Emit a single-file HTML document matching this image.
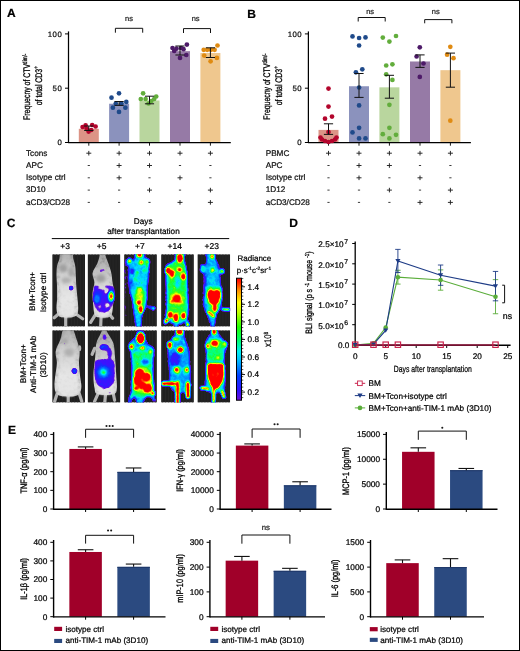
<!DOCTYPE html><html><head><meta charset="utf-8"><style>html,body{margin:0;padding:0;background:#fff;}#root{will-change:transform;position:relative;width:520px;height:651px;overflow:hidden;background:#fff;font-family:"Liberation Sans",sans-serif;}#frame{position:absolute;left:0;top:0;width:520px;height:651px;box-sizing:border-box;border:1px solid #000;pointer-events:none;}</style></head><body><div id="root"><svg width="520" height="651" viewBox="0 0 520 651" style="position:absolute;left:0;top:0" font-family="Liberation Sans, sans-serif" text-rendering="geometricPrecision">
<defs><filter id="bl1" x="-20%" y="-20%" width="140%" height="140%"><feGaussianBlur stdDeviation="1"/></filter><filter id="bl2" x="-30%" y="-30%" width="160%" height="160%"><feGaussianBlur stdDeviation="1.6"/></filter><filter id="bl05"><feGaussianBlur stdDeviation="0.5"/></filter><filter id="mottle" x="-10%" y="-10%" width="120%" height="120%"><feTurbulence type="fractalNoise" baseFrequency="0.28" numOctaves="2" seed="4" result="n"/><feColorMatrix in="n" type="matrix" values="0.9 0 0 0 0.5  0.9 0 0 0 0.5  0.9 0 0 0 0.5  0 0 0 0 1" result="g"/><feComposite in="SourceGraphic" in2="g" operator="arithmetic" k1="1" k2="0" k3="0" k4="0" result="m"/><feGaussianBlur in="m" stdDeviation="0.45"/></filter><filter id="heat" x="0" y="0" width="1" height="1" color-interpolation-filters="sRGB"><feGaussianBlur in="SourceGraphic" stdDeviation="1.2" result="b"/><feTurbulence type="fractalNoise" baseFrequency="0.32" numOctaves="2" seed="5" result="n"/><feComposite in="b" in2="n" operator="arithmetic" k1="0" k2="1" k3="0.24" k4="-0.12" result="bn"/><feColorMatrix in="bn" type="matrix" values="1 0 0 0 0  1 0 0 0 0  1 0 0 0 0  1 0 0 0 0" result="rr"/><feComponentTransfer in="rr"><feFuncR type="table" tableValues="0.439 0.439 0.439 0.439 0.439 0.439 0.439 0.404 0.355 0.305 0.255 0.214 0.174 0.135 0.095 0.061 0.05 0.038 0.027 0.016 0.005 0 0 0 0 0 0 0 0 0 0.002 0.036 0.069 0.102 0.157 0.263 0.369 0.476 0.582 0.692 0.804 0.917 1 1 1 1 1 1 1 1 1 1 1 1 1 1 1 1 1 1 1 1 1 1"/><feFuncG type="table" tableValues="0.063 0.063 0.063 0.063 0.063 0.063 0.063 0.063 0.063 0.063 0.063 0.087 0.114 0.14 0.167 0.201 0.268 0.334 0.4 0.467 0.533 0.6 0.666 0.732 0.799 0.865 0.899 0.925 0.95 0.976 1 1 1 1 1 1 1 1 1 1 1 1 0.976 0.884 0.792 0.699 0.607 0.511 0.412 0.312 0.212 0.145 0.088 0.031 0 0 0 0 0 0 0 0 0 0"/><feFuncB type="table" tableValues="0.847 0.847 0.847 0.847 0.847 0.847 0.847 0.875 0.916 0.956 0.997 1 1 1 1 1 1 1 1 1 1 1 1 1 1 1 0.926 0.834 0.742 0.65 0.556 0.44 0.324 0.207 0.118 0.091 0.065 0.038 0.011 0 0 0 0 0 0 0 0 0 0 0 0 0 0 0 0 0 0 0 0 0 0 0 0 0"/><feFuncA type="table" tableValues="0 0 0 0 0 0.239 0.504 0.769 1 1 1 1 1 1 1 1 1 1 1 1 1 1 1 1 1 1 1 1 1 1 1 1 1 1 1 1 1 1 1 1 1 1 1 1 1 1 1 1 1 1 1 1 1 1 1 1 1 1 1 1 1 1 1 1"/></feComponentTransfer></filter><filter id="heatS" x="0" y="0" width="1" height="1" color-interpolation-filters="sRGB"><feGaussianBlur in="SourceGraphic" stdDeviation="0.8" result="b"/><feTurbulence type="fractalNoise" baseFrequency="0.32" numOctaves="2" seed="5" result="n"/><feComposite in="b" in2="n" operator="arithmetic" k1="0" k2="1" k3="0.12" k4="-0.06" result="bn"/><feColorMatrix in="bn" type="matrix" values="1 0 0 0 0  1 0 0 0 0  1 0 0 0 0  1 0 0 0 0" result="rr"/><feComponentTransfer in="rr"><feFuncR type="table" tableValues="0.439 0.439 0.439 0.439 0.439 0.439 0.439 0.404 0.355 0.305 0.255 0.214 0.174 0.135 0.095 0.061 0.05 0.038 0.027 0.016 0.005 0 0 0 0 0 0 0 0 0 0.002 0.036 0.069 0.102 0.157 0.263 0.369 0.476 0.582 0.692 0.804 0.917 1 1 1 1 1 1 1 1 1 1 1 1 1 1 1 1 1 1 1 1 1 1"/><feFuncG type="table" tableValues="0.063 0.063 0.063 0.063 0.063 0.063 0.063 0.063 0.063 0.063 0.063 0.087 0.114 0.14 0.167 0.201 0.268 0.334 0.4 0.467 0.533 0.6 0.666 0.732 0.799 0.865 0.899 0.925 0.95 0.976 1 1 1 1 1 1 1 1 1 1 1 1 0.976 0.884 0.792 0.699 0.607 0.511 0.412 0.312 0.212 0.145 0.088 0.031 0 0 0 0 0 0 0 0 0 0"/><feFuncB type="table" tableValues="0.847 0.847 0.847 0.847 0.847 0.847 0.847 0.875 0.916 0.956 0.997 1 1 1 1 1 1 1 1 1 1 1 1 1 1 1 0.926 0.834 0.742 0.65 0.556 0.44 0.324 0.207 0.118 0.091 0.065 0.038 0.011 0 0 0 0 0 0 0 0 0 0 0 0 0 0 0 0 0 0 0 0 0 0 0 0 0"/><feFuncA type="table" tableValues="0 0 0 0 0 0.239 0.504 0.769 1 1 1 1 1 1 1 1 1 1 1 1 1 1 1 1 1 1 1 1 1 1 1 1 1 1 1 1 1 1 1 1 1 1 1 1 1 1 1 1 1 1 1 1 1 1 1 1 1 1 1 1 1 1 1 1"/></feComponentTransfer></filter><filter id="rough" x="-5%" y="-5%" width="110%" height="110%"><feTurbulence type="turbulence" baseFrequency="0.45" numOctaves="2" seed="7" result="t"/><feDisplacementMap in="SourceGraphic" in2="t" scale="2.6" xChannelSelector="R" yChannelSelector="G" result="d"/><feGaussianBlur in="d" stdDeviation="0.35"/></filter><linearGradient id="gm" x1="0" y1="0" x2="0" y2="1"><stop offset="0" stop-color="#a0a0a0"/><stop offset="0.3" stop-color="#c2c2c2"/><stop offset="0.6" stop-color="#d6d6d6"/><stop offset="1" stop-color="#dadada"/></linearGradient><linearGradient id="gm2" x1="0" y1="0" x2="0" y2="1"><stop offset="0" stop-color="#b4b4b4"/><stop offset="0.35" stop-color="#d4d4d4"/><stop offset="0.7" stop-color="#eaeaea"/><stop offset="1" stop-color="#e6e6e6"/></linearGradient><linearGradient id="cbar" x1="0" y1="1" x2="0" y2="0"><stop offset="0" stop-color="#6a0fd0"/><stop offset="0.08" stop-color="#3010ff"/><stop offset="0.2" stop-color="#0040ff"/><stop offset="0.33" stop-color="#00c0ff"/><stop offset="0.4" stop-color="#00f0f0"/><stop offset="0.5" stop-color="#00ff60"/><stop offset="0.6" stop-color="#20ff00"/><stop offset="0.72" stop-color="#c0ff00"/><stop offset="0.8" stop-color="#ffff00"/><stop offset="0.9" stop-color="#ff9000"/><stop offset="0.97" stop-color="#ff2000"/><stop offset="1" stop-color="#ff0000"/></linearGradient></defs>
<text x="7" y="17.3" font-size="12" text-anchor="start" fill="#000" stroke="#000" stroke-width="0.22" font-weight="bold">A</text>
<rect x="78.8" y="128.8164" width="20" height="13.683600000000013" fill="#dc9486" />
<rect x="109.1" y="103.72980000000001" width="20" height="38.77019999999999" fill="#8b92bd" />
<rect x="139.5" y="100.4718" width="20" height="42.0282" fill="#b9d69e" />
<rect x="170.0" y="51.167400000000015" width="20" height="91.33259999999999" fill="#967aa6" />
<rect x="200.4" y="53.01360000000001" width="20" height="89.48639999999999" fill="#efc78e" />
<line x1="68.5" y1="31.4" x2="68.5" y2="143.1" stroke="#000" stroke-width="1.25"/>
<line x1="68.5" y1="142.5" x2="230.8" y2="142.5" stroke="#000" stroke-width="1.25"/>
<line x1="65.0" y1="142.5" x2="68.5" y2="142.5" stroke="#000" stroke-width="1"/>
<text x="62.2" y="145.4" font-size="7.8" text-anchor="end" fill="#111" stroke="#111" stroke-width="0.22" letter-spacing="0.45">0</text>
<line x1="65.0" y1="88.20000000000002" x2="68.5" y2="88.20000000000002" stroke="#000" stroke-width="1"/>
<text x="62.2" y="91.10000000000002" font-size="7.8" text-anchor="end" fill="#111" stroke="#111" stroke-width="0.22" letter-spacing="0.45">50</text>
<line x1="65.0" y1="33.90000000000002" x2="68.5" y2="33.90000000000002" stroke="#000" stroke-width="1"/>
<text x="62.2" y="36.80000000000002" font-size="7.8" text-anchor="end" fill="#111" stroke="#111" stroke-width="0.22" letter-spacing="0.45">100</text>
<line x1="88.8" y1="142.5" x2="88.8" y2="145.7" stroke="#000" stroke-width="0.9"/>
<line x1="119.1" y1="142.5" x2="119.1" y2="145.7" stroke="#000" stroke-width="0.9"/>
<line x1="149.5" y1="142.5" x2="149.5" y2="145.7" stroke="#000" stroke-width="0.9"/>
<line x1="180.0" y1="142.5" x2="180.0" y2="145.7" stroke="#000" stroke-width="0.9"/>
<line x1="210.4" y1="142.5" x2="210.4" y2="145.7" stroke="#000" stroke-width="0.9"/>
<circle cx="82.6" cy="127" r="2.35" fill="#b3052c"/>
<circle cx="85.6" cy="125.3" r="2.35" fill="#b3052c"/>
<circle cx="92.2" cy="125" r="2.35" fill="#b3052c"/>
<circle cx="95.6" cy="126.5" r="2.35" fill="#b3052c"/>
<circle cx="88.6" cy="131.6" r="2.35" fill="#b3052c"/>
<circle cx="91.2" cy="130" r="2.35" fill="#b3052c"/>
<circle cx="86.6" cy="128.5" r="2.35" fill="#b3052c"/>
<line x1="88.8" y1="126" x2="88.8" y2="130.5" stroke="#111" stroke-width="1"/>
<line x1="84.2" y1="126" x2="93.39999999999999" y2="126" stroke="#111" stroke-width="1"/>
<line x1="84.2" y1="130.5" x2="93.39999999999999" y2="130.5" stroke="#111" stroke-width="1"/>
<circle cx="111.5" cy="97.7" r="2.35" fill="#1f4a8a"/>
<circle cx="119" cy="93.3" r="2.35" fill="#1f4a8a"/>
<circle cx="112.9" cy="107.7" r="2.35" fill="#1f4a8a"/>
<circle cx="125.4" cy="107.7" r="2.35" fill="#1f4a8a"/>
<circle cx="119" cy="111.9" r="2.35" fill="#1f4a8a"/>
<circle cx="126.3" cy="101.9" r="2.35" fill="#1f4a8a"/>
<circle cx="115.8" cy="103.5" r="2.35" fill="#1f4a8a"/>
<circle cx="121.5" cy="103.5" r="2.35" fill="#1f4a8a"/>
<line x1="119.1" y1="101.5" x2="119.1" y2="105.4" stroke="#111" stroke-width="1"/>
<line x1="114.5" y1="101.5" x2="123.69999999999999" y2="101.5" stroke="#111" stroke-width="1"/>
<line x1="114.5" y1="105.4" x2="123.69999999999999" y2="105.4" stroke="#111" stroke-width="1"/>
<circle cx="143.1" cy="93.3" r="2.35" fill="#62ad3c"/>
<circle cx="156.2" cy="96.5" r="2.35" fill="#62ad3c"/>
<circle cx="140.8" cy="99" r="2.35" fill="#62ad3c"/>
<circle cx="145.6" cy="99" r="2.35" fill="#62ad3c"/>
<circle cx="148.5" cy="103.5" r="2.35" fill="#62ad3c"/>
<circle cx="154.2" cy="99" r="2.35" fill="#62ad3c"/>
<circle cx="151.3" cy="101" r="2.35" fill="#62ad3c"/>
<line x1="149.5" y1="96.2" x2="149.5" y2="103.8" stroke="#111" stroke-width="1"/>
<line x1="144.9" y1="96.2" x2="154.1" y2="96.2" stroke="#111" stroke-width="1"/>
<line x1="144.9" y1="103.8" x2="154.1" y2="103.8" stroke="#111" stroke-width="1"/>
<circle cx="172.5" cy="48" r="2.35" fill="#4d1a68"/>
<circle cx="176.5" cy="48.7" r="2.35" fill="#4d1a68"/>
<circle cx="174.2" cy="51" r="2.35" fill="#4d1a68"/>
<circle cx="181" cy="48" r="2.35" fill="#4d1a68"/>
<circle cx="183.5" cy="49.2" r="2.35" fill="#4d1a68"/>
<circle cx="186.9" cy="44.6" r="2.35" fill="#4d1a68"/>
<circle cx="186.3" cy="55" r="2.35" fill="#4d1a68"/>
<circle cx="180" cy="57.9" r="2.35" fill="#4d1a68"/>
<line x1="180.0" y1="46" x2="180.0" y2="55" stroke="#111" stroke-width="1"/>
<line x1="175.4" y1="46" x2="184.6" y2="46" stroke="#111" stroke-width="1"/>
<line x1="175.4" y1="55" x2="184.6" y2="55" stroke="#111" stroke-width="1"/>
<circle cx="217.5" cy="45.5" r="2.35" fill="#e08b12"/>
<circle cx="203.7" cy="49.8" r="2.35" fill="#e08b12"/>
<circle cx="207.2" cy="49.8" r="2.35" fill="#e08b12"/>
<circle cx="211" cy="49.8" r="2.35" fill="#e08b12"/>
<circle cx="214.6" cy="49.8" r="2.35" fill="#e08b12"/>
<circle cx="204.2" cy="55.6" r="2.35" fill="#e08b12"/>
<circle cx="216.9" cy="57.9" r="2.35" fill="#e08b12"/>
<circle cx="210.6" cy="61.3" r="2.35" fill="#e08b12"/>
<line x1="210.4" y1="47.8" x2="210.4" y2="57.5" stroke="#111" stroke-width="1"/>
<line x1="205.8" y1="47.8" x2="215.0" y2="47.8" stroke="#111" stroke-width="1"/>
<line x1="205.8" y1="57.5" x2="215.0" y2="57.5" stroke="#111" stroke-width="1"/>
<text x="26" y="155.5" font-size="8.2" text-anchor="start" fill="#111" stroke="#111" stroke-width="0.22" >Tcons</text>
<line x1="86.3" y1="153.2" x2="91.3" y2="153.2" stroke="#222" stroke-width="0.95"/>
<line x1="88.8" y1="150.89999999999998" x2="88.8" y2="155.5" stroke="#222" stroke-width="0.95"/>
<line x1="116.6" y1="153.2" x2="121.6" y2="153.2" stroke="#222" stroke-width="0.95"/>
<line x1="119.1" y1="150.89999999999998" x2="119.1" y2="155.5" stroke="#222" stroke-width="0.95"/>
<line x1="147.0" y1="153.2" x2="152.0" y2="153.2" stroke="#222" stroke-width="0.95"/>
<line x1="149.5" y1="150.89999999999998" x2="149.5" y2="155.5" stroke="#222" stroke-width="0.95"/>
<line x1="177.5" y1="153.2" x2="182.5" y2="153.2" stroke="#222" stroke-width="0.95"/>
<line x1="180.0" y1="150.89999999999998" x2="180.0" y2="155.5" stroke="#222" stroke-width="0.95"/>
<line x1="207.9" y1="153.2" x2="212.9" y2="153.2" stroke="#222" stroke-width="0.95"/>
<line x1="210.4" y1="150.89999999999998" x2="210.4" y2="155.5" stroke="#222" stroke-width="0.95"/>
<text x="26" y="167.8" font-size="8.2" text-anchor="start" fill="#111" stroke="#111" stroke-width="0.22" >APC</text>
<line x1="87.7" y1="165.5" x2="89.89999999999999" y2="165.5" stroke="#333" stroke-width="0.95"/>
<line x1="116.6" y1="165.5" x2="121.6" y2="165.5" stroke="#222" stroke-width="0.95"/>
<line x1="119.1" y1="163.2" x2="119.1" y2="167.8" stroke="#222" stroke-width="0.95"/>
<line x1="147.0" y1="165.5" x2="152.0" y2="165.5" stroke="#222" stroke-width="0.95"/>
<line x1="149.5" y1="163.2" x2="149.5" y2="167.8" stroke="#222" stroke-width="0.95"/>
<line x1="178.9" y1="165.5" x2="181.1" y2="165.5" stroke="#333" stroke-width="0.95"/>
<line x1="209.3" y1="165.5" x2="211.5" y2="165.5" stroke="#333" stroke-width="0.95"/>
<text x="26" y="180.10000000000002" font-size="8.2" text-anchor="start" fill="#111" stroke="#111" stroke-width="0.22" >Isotype ctrl</text>
<line x1="87.7" y1="177.8" x2="89.89999999999999" y2="177.8" stroke="#333" stroke-width="0.95"/>
<line x1="116.6" y1="177.8" x2="121.6" y2="177.8" stroke="#222" stroke-width="0.95"/>
<line x1="119.1" y1="175.5" x2="119.1" y2="180.10000000000002" stroke="#222" stroke-width="0.95"/>
<line x1="148.4" y1="177.8" x2="150.6" y2="177.8" stroke="#333" stroke-width="0.95"/>
<line x1="177.5" y1="177.8" x2="182.5" y2="177.8" stroke="#222" stroke-width="0.95"/>
<line x1="180.0" y1="175.5" x2="180.0" y2="180.10000000000002" stroke="#222" stroke-width="0.95"/>
<line x1="209.3" y1="177.8" x2="211.5" y2="177.8" stroke="#333" stroke-width="0.95"/>
<text x="26" y="192.4" font-size="8.2" text-anchor="start" fill="#111" stroke="#111" stroke-width="0.22" >3D10</text>
<line x1="87.7" y1="190.1" x2="89.89999999999999" y2="190.1" stroke="#333" stroke-width="0.95"/>
<line x1="118.0" y1="190.1" x2="120.19999999999999" y2="190.1" stroke="#333" stroke-width="0.95"/>
<line x1="147.0" y1="190.1" x2="152.0" y2="190.1" stroke="#222" stroke-width="0.95"/>
<line x1="149.5" y1="187.79999999999998" x2="149.5" y2="192.4" stroke="#222" stroke-width="0.95"/>
<line x1="178.9" y1="190.1" x2="181.1" y2="190.1" stroke="#333" stroke-width="0.95"/>
<line x1="207.9" y1="190.1" x2="212.9" y2="190.1" stroke="#222" stroke-width="0.95"/>
<line x1="210.4" y1="187.79999999999998" x2="210.4" y2="192.4" stroke="#222" stroke-width="0.95"/>
<text x="26" y="204.70000000000002" font-size="8.2" text-anchor="start" fill="#111" stroke="#111" stroke-width="0.22" >aCD3/CD28</text>
<line x1="87.7" y1="202.4" x2="89.89999999999999" y2="202.4" stroke="#333" stroke-width="0.95"/>
<line x1="118.0" y1="202.4" x2="120.19999999999999" y2="202.4" stroke="#333" stroke-width="0.95"/>
<line x1="148.4" y1="202.4" x2="150.6" y2="202.4" stroke="#333" stroke-width="0.95"/>
<line x1="177.5" y1="202.4" x2="182.5" y2="202.4" stroke="#222" stroke-width="0.95"/>
<line x1="180.0" y1="200.1" x2="180.0" y2="204.70000000000002" stroke="#222" stroke-width="0.95"/>
<line x1="207.9" y1="202.4" x2="212.9" y2="202.4" stroke="#222" stroke-width="0.95"/>
<line x1="210.4" y1="200.1" x2="210.4" y2="204.70000000000002" stroke="#222" stroke-width="0.95"/>
<text transform="translate(30.2,86.8) rotate(-90) scale(0.72,1)" font-size="9.6" text-anchor="middle" fill="#000" stroke="#000" stroke-width="0.3">Frequecny of CTV<tspan font-size="6.4" dy="-3.52">dim/-</tspan></text>
<text transform="translate(41.5,85.7) rotate(-90) scale(0.72,1)" font-size="9.6" text-anchor="middle" fill="#000" stroke="#000" stroke-width="0.3">of total CD3<tspan font-size="6.4" dy="-3.52">+</tspan></text>
<polyline points="115.4,32.7 115.4,28.3 142.7,28.3 142.7,32.7" fill="none" stroke="#111" stroke-width="1"/>
<text x="129" y="21.3" font-size="7.5" text-anchor="middle" fill="#222" stroke="#222" stroke-width="0.22" >ns</text>
<polyline points="183.5,33 183.5,28.6 210.5,28.6 210.5,33" fill="none" stroke="#111" stroke-width="1"/>
<text x="195.6" y="21.3" font-size="7.5" text-anchor="middle" fill="#222" stroke="#222" stroke-width="0.22" >ns</text>
<text x="247.3" y="17.7" font-size="12" text-anchor="start" fill="#000" stroke="#000" stroke-width="0.22" font-weight="bold">B</text>
<rect x="318.5" y="129.9024" width="20" height="12.5976" fill="#dc9486" />
<rect x="349.0" y="86.24520000000001" width="20" height="56.25479999999999" fill="#8b92bd" />
<rect x="379.4" y="87.33120000000001" width="20" height="55.16879999999999" fill="#b9d69e" />
<rect x="410.0" y="61.48440000000002" width="20" height="81.01559999999998" fill="#967aa6" />
<rect x="440.4" y="70.17240000000001" width="20" height="72.32759999999999" fill="#efc78e" />
<line x1="308.4" y1="31.4" x2="308.4" y2="143.1" stroke="#000" stroke-width="1.25"/>
<line x1="308.4" y1="142.5" x2="470.9" y2="142.5" stroke="#000" stroke-width="1.25"/>
<line x1="304.9" y1="142.5" x2="308.4" y2="142.5" stroke="#000" stroke-width="1"/>
<text x="302.09999999999997" y="145.4" font-size="7.8" text-anchor="end" fill="#111" stroke="#111" stroke-width="0.22" letter-spacing="0.45">0</text>
<line x1="304.9" y1="88.20000000000002" x2="308.4" y2="88.20000000000002" stroke="#000" stroke-width="1"/>
<text x="302.09999999999997" y="91.10000000000002" font-size="7.8" text-anchor="end" fill="#111" stroke="#111" stroke-width="0.22" letter-spacing="0.45">50</text>
<line x1="304.9" y1="33.90000000000002" x2="308.4" y2="33.90000000000002" stroke="#000" stroke-width="1"/>
<text x="302.09999999999997" y="36.80000000000002" font-size="7.8" text-anchor="end" fill="#111" stroke="#111" stroke-width="0.22" letter-spacing="0.45">100</text>
<line x1="328.5" y1="142.5" x2="328.5" y2="145.7" stroke="#000" stroke-width="0.9"/>
<line x1="359.0" y1="142.5" x2="359.0" y2="145.7" stroke="#000" stroke-width="0.9"/>
<line x1="389.4" y1="142.5" x2="389.4" y2="145.7" stroke="#000" stroke-width="0.9"/>
<line x1="420.0" y1="142.5" x2="420.0" y2="145.7" stroke="#000" stroke-width="0.9"/>
<line x1="450.4" y1="142.5" x2="450.4" y2="145.7" stroke="#000" stroke-width="0.9"/>
<circle cx="328.5" cy="88.6" r="2.35" fill="#b3052c"/>
<circle cx="328.5" cy="106.6" r="2.35" fill="#b3052c"/>
<circle cx="325" cy="118.7" r="2.35" fill="#b3052c"/>
<circle cx="332" cy="116.6" r="2.35" fill="#b3052c"/>
<circle cx="328.5" cy="132" r="2.35" fill="#b3052c"/>
<circle cx="320.5" cy="137.5" r="2.35" fill="#b3052c"/>
<circle cx="322" cy="139.5" r="2.35" fill="#b3052c"/>
<circle cx="325" cy="141" r="2.35" fill="#b3052c"/>
<circle cx="328.5" cy="142" r="2.35" fill="#b3052c"/>
<circle cx="332" cy="141" r="2.35" fill="#b3052c"/>
<circle cx="335" cy="139.5" r="2.35" fill="#b3052c"/>
<circle cx="336.5" cy="137.5" r="2.35" fill="#b3052c"/>
<line x1="328.5" y1="123.8" x2="328.5" y2="134.4" stroke="#111" stroke-width="1"/>
<line x1="323.9" y1="123.8" x2="333.1" y2="123.8" stroke="#111" stroke-width="1"/>
<line x1="323.9" y1="134.4" x2="333.1" y2="134.4" stroke="#111" stroke-width="1"/>
<circle cx="352.5" cy="36.4" r="2.35" fill="#1f4a8a"/>
<circle cx="359.1" cy="38" r="2.35" fill="#1f4a8a"/>
<circle cx="365.5" cy="37.4" r="2.35" fill="#1f4a8a"/>
<circle cx="359.1" cy="45.5" r="2.35" fill="#1f4a8a"/>
<circle cx="355.9" cy="72.3" r="2.35" fill="#1f4a8a"/>
<circle cx="362.3" cy="69.3" r="2.35" fill="#1f4a8a"/>
<circle cx="359.1" cy="87.5" r="2.35" fill="#1f4a8a"/>
<circle cx="359.1" cy="105.4" r="2.35" fill="#1f4a8a"/>
<circle cx="352.5" cy="132.4" r="2.35" fill="#1f4a8a"/>
<circle cx="359.1" cy="127.8" r="2.35" fill="#1f4a8a"/>
<circle cx="359.1" cy="138.4" r="2.35" fill="#1f4a8a"/>
<circle cx="365.5" cy="138.4" r="2.35" fill="#1f4a8a"/>
<line x1="359.0" y1="73.5" x2="359.0" y2="97.4" stroke="#111" stroke-width="1"/>
<line x1="354.4" y1="73.5" x2="363.6" y2="73.5" stroke="#111" stroke-width="1"/>
<line x1="354.4" y1="97.4" x2="363.6" y2="97.4" stroke="#111" stroke-width="1"/>
<circle cx="382.8" cy="37.6" r="2.35" fill="#62ad3c"/>
<circle cx="389.4" cy="41.6" r="2.35" fill="#62ad3c"/>
<circle cx="396" cy="36" r="2.35" fill="#62ad3c"/>
<circle cx="386.2" cy="65.5" r="2.35" fill="#62ad3c"/>
<circle cx="392.4" cy="64.3" r="2.35" fill="#62ad3c"/>
<circle cx="386.2" cy="74.3" r="2.35" fill="#62ad3c"/>
<circle cx="392.4" cy="79.9" r="2.35" fill="#62ad3c"/>
<circle cx="389.4" cy="104.8" r="2.35" fill="#62ad3c"/>
<circle cx="389.4" cy="127.8" r="2.35" fill="#62ad3c"/>
<circle cx="382.8" cy="134.2" r="2.35" fill="#62ad3c"/>
<circle cx="389.4" cy="138.4" r="2.35" fill="#62ad3c"/>
<circle cx="396" cy="134.8" r="2.35" fill="#62ad3c"/>
<line x1="389.4" y1="75.3" x2="389.4" y2="98.2" stroke="#111" stroke-width="1"/>
<line x1="384.79999999999995" y1="75.3" x2="394.0" y2="75.3" stroke="#111" stroke-width="1"/>
<line x1="384.79999999999995" y1="98.2" x2="394.0" y2="98.2" stroke="#111" stroke-width="1"/>
<circle cx="419.8" cy="47.3" r="2.35" fill="#4d1a68"/>
<circle cx="416.6" cy="56.5" r="2.35" fill="#4d1a68"/>
<circle cx="423.5" cy="63.5" r="2.35" fill="#4d1a68"/>
<circle cx="419.8" cy="76.9" r="2.35" fill="#4d1a68"/>
<line x1="420.0" y1="54.9" x2="420.0" y2="67.4" stroke="#111" stroke-width="1"/>
<line x1="415.4" y1="54.9" x2="424.6" y2="54.9" stroke="#111" stroke-width="1"/>
<line x1="415.4" y1="67.4" x2="424.6" y2="67.4" stroke="#111" stroke-width="1"/>
<circle cx="450.3" cy="46.8" r="2.35" fill="#e08b12"/>
<circle cx="447.1" cy="54.7" r="2.35" fill="#e08b12"/>
<circle cx="453.5" cy="58.2" r="2.35" fill="#e08b12"/>
<circle cx="450.3" cy="120.7" r="2.35" fill="#e08b12"/>
<line x1="450.4" y1="53.1" x2="450.4" y2="87.2" stroke="#111" stroke-width="1"/>
<line x1="445.79999999999995" y1="53.1" x2="455.0" y2="53.1" stroke="#111" stroke-width="1"/>
<line x1="445.79999999999995" y1="87.2" x2="455.0" y2="87.2" stroke="#111" stroke-width="1"/>
<text x="265.7" y="155.5" font-size="8.2" text-anchor="start" fill="#111" stroke="#111" stroke-width="0.22" >PBMC</text>
<line x1="326.0" y1="153.2" x2="331.0" y2="153.2" stroke="#222" stroke-width="0.95"/>
<line x1="328.5" y1="150.89999999999998" x2="328.5" y2="155.5" stroke="#222" stroke-width="0.95"/>
<line x1="356.5" y1="153.2" x2="361.5" y2="153.2" stroke="#222" stroke-width="0.95"/>
<line x1="359.0" y1="150.89999999999998" x2="359.0" y2="155.5" stroke="#222" stroke-width="0.95"/>
<line x1="386.9" y1="153.2" x2="391.9" y2="153.2" stroke="#222" stroke-width="0.95"/>
<line x1="389.4" y1="150.89999999999998" x2="389.4" y2="155.5" stroke="#222" stroke-width="0.95"/>
<line x1="417.5" y1="153.2" x2="422.5" y2="153.2" stroke="#222" stroke-width="0.95"/>
<line x1="420.0" y1="150.89999999999998" x2="420.0" y2="155.5" stroke="#222" stroke-width="0.95"/>
<line x1="447.9" y1="153.2" x2="452.9" y2="153.2" stroke="#222" stroke-width="0.95"/>
<line x1="450.4" y1="150.89999999999998" x2="450.4" y2="155.5" stroke="#222" stroke-width="0.95"/>
<text x="265.7" y="167.8" font-size="8.2" text-anchor="start" fill="#111" stroke="#111" stroke-width="0.22" >APC</text>
<line x1="327.4" y1="165.5" x2="329.6" y2="165.5" stroke="#333" stroke-width="0.95"/>
<line x1="356.5" y1="165.5" x2="361.5" y2="165.5" stroke="#222" stroke-width="0.95"/>
<line x1="359.0" y1="163.2" x2="359.0" y2="167.8" stroke="#222" stroke-width="0.95"/>
<line x1="386.9" y1="165.5" x2="391.9" y2="165.5" stroke="#222" stroke-width="0.95"/>
<line x1="389.4" y1="163.2" x2="389.4" y2="167.8" stroke="#222" stroke-width="0.95"/>
<line x1="418.9" y1="165.5" x2="421.1" y2="165.5" stroke="#333" stroke-width="0.95"/>
<line x1="449.29999999999995" y1="165.5" x2="451.5" y2="165.5" stroke="#333" stroke-width="0.95"/>
<text x="265.7" y="180.10000000000002" font-size="8.2" text-anchor="start" fill="#111" stroke="#111" stroke-width="0.22" >Isotype ctrl</text>
<line x1="327.4" y1="177.8" x2="329.6" y2="177.8" stroke="#333" stroke-width="0.95"/>
<line x1="356.5" y1="177.8" x2="361.5" y2="177.8" stroke="#222" stroke-width="0.95"/>
<line x1="359.0" y1="175.5" x2="359.0" y2="180.10000000000002" stroke="#222" stroke-width="0.95"/>
<line x1="388.29999999999995" y1="177.8" x2="390.5" y2="177.8" stroke="#333" stroke-width="0.95"/>
<line x1="417.5" y1="177.8" x2="422.5" y2="177.8" stroke="#222" stroke-width="0.95"/>
<line x1="420.0" y1="175.5" x2="420.0" y2="180.10000000000002" stroke="#222" stroke-width="0.95"/>
<line x1="449.29999999999995" y1="177.8" x2="451.5" y2="177.8" stroke="#333" stroke-width="0.95"/>
<text x="265.7" y="192.4" font-size="8.2" text-anchor="start" fill="#111" stroke="#111" stroke-width="0.22" >1D12</text>
<line x1="327.4" y1="190.1" x2="329.6" y2="190.1" stroke="#333" stroke-width="0.95"/>
<line x1="357.9" y1="190.1" x2="360.1" y2="190.1" stroke="#333" stroke-width="0.95"/>
<line x1="386.9" y1="190.1" x2="391.9" y2="190.1" stroke="#222" stroke-width="0.95"/>
<line x1="389.4" y1="187.79999999999998" x2="389.4" y2="192.4" stroke="#222" stroke-width="0.95"/>
<line x1="418.9" y1="190.1" x2="421.1" y2="190.1" stroke="#333" stroke-width="0.95"/>
<line x1="447.9" y1="190.1" x2="452.9" y2="190.1" stroke="#222" stroke-width="0.95"/>
<line x1="450.4" y1="187.79999999999998" x2="450.4" y2="192.4" stroke="#222" stroke-width="0.95"/>
<text x="265.7" y="204.70000000000002" font-size="8.2" text-anchor="start" fill="#111" stroke="#111" stroke-width="0.22" >aCD3/CD28</text>
<line x1="327.4" y1="202.4" x2="329.6" y2="202.4" stroke="#333" stroke-width="0.95"/>
<line x1="357.9" y1="202.4" x2="360.1" y2="202.4" stroke="#333" stroke-width="0.95"/>
<line x1="388.29999999999995" y1="202.4" x2="390.5" y2="202.4" stroke="#333" stroke-width="0.95"/>
<line x1="417.5" y1="202.4" x2="422.5" y2="202.4" stroke="#222" stroke-width="0.95"/>
<line x1="420.0" y1="200.1" x2="420.0" y2="204.70000000000002" stroke="#222" stroke-width="0.95"/>
<line x1="447.9" y1="202.4" x2="452.9" y2="202.4" stroke="#222" stroke-width="0.95"/>
<line x1="450.4" y1="200.1" x2="450.4" y2="204.70000000000002" stroke="#222" stroke-width="0.95"/>
<text transform="translate(270.2,86.5) rotate(-90) scale(0.72,1)" font-size="9.6" text-anchor="middle" fill="#000" stroke="#000" stroke-width="0.3">Frequecny of CTV<tspan font-size="6.4" dy="-3.52">dim/-</tspan></text>
<text transform="translate(281.5,85.7) rotate(-90) scale(0.72,1)" font-size="9.6" text-anchor="middle" fill="#000" stroke="#000" stroke-width="0.3">of total CD3<tspan font-size="6.4" dy="-3.52">+</tspan></text>
<polyline points="358.2,21.5 358.2,17.5 385.2,17.5 385.2,21.5" fill="none" stroke="#111" stroke-width="1"/>
<text x="370.1" y="13.9" font-size="7.5" text-anchor="middle" fill="#222" stroke="#222" stroke-width="0.22" >ns</text>
<polyline points="424.7,23.3 424.7,19.6 451.9,19.6 451.9,23.3" fill="none" stroke="#111" stroke-width="1"/>
<text x="435.8" y="13.9" font-size="7.5" text-anchor="middle" fill="#222" stroke="#222" stroke-width="0.22" >ns</text>
<text x="6.7" y="227.3" font-size="12" text-anchor="start" fill="#000" stroke="#000" stroke-width="0.22" font-weight="bold">C</text>
<text x="143.2" y="224.2" font-size="8.2" text-anchor="middle" fill="#000" stroke="#000" stroke-width="0.22" >Days</text>
<text x="143.5" y="234.3" font-size="8.2" text-anchor="middle" fill="#000" stroke="#000" stroke-width="0.22" >after transplantation</text>
<line x1="51.8" y1="238.6" x2="229.2" y2="238.6" stroke="#000" stroke-width="1"/>
<text x="65.1" y="248.9" font-size="8.5" text-anchor="middle" fill="#000" stroke="#000" stroke-width="0.22" >+3</text>
<text x="101.7" y="248.9" font-size="8.5" text-anchor="middle" fill="#000" stroke="#000" stroke-width="0.22" >+5</text>
<text x="139.8" y="248.9" font-size="8.5" text-anchor="middle" fill="#000" stroke="#000" stroke-width="0.22" >+7</text>
<text x="174.7" y="248.9" font-size="8.5" text-anchor="middle" fill="#000" stroke="#000" stroke-width="0.22" >+14</text>
<text x="211.7" y="248.9" font-size="8.5" text-anchor="middle" fill="#000" stroke="#000" stroke-width="0.22" >+23</text>
<clipPath id="m11"><rect x="52.2" y="254.3" width="32.8" height="72.3"/></clipPath>
<g clip-path="url(#m11)">
<rect x="52.2" y="254.3" width="32.8" height="72.3" fill="#202020" />
<rect x="53.2" y="254.3" width="1" height="72.3" fill="#272727" />
<rect x="56.2" y="254.3" width="1" height="72.3" fill="#272727" />
<rect x="59.2" y="254.3" width="1" height="72.3" fill="#272727" />
<rect x="62.2" y="254.3" width="1" height="72.3" fill="#272727" />
<rect x="65.2" y="254.3" width="1" height="72.3" fill="#272727" />
<rect x="68.2" y="254.3" width="1" height="72.3" fill="#272727" />
<rect x="71.2" y="254.3" width="1" height="72.3" fill="#272727" />
<rect x="74.2" y="254.3" width="1" height="72.3" fill="#272727" />
<rect x="77.2" y="254.3" width="1" height="72.3" fill="#272727" />
<rect x="80.2" y="254.3" width="1" height="72.3" fill="#272727" />
<rect x="83.2" y="254.3" width="1" height="72.3" fill="#272727" />
<g transform="translate(52.2,254.3)">
<line x1="6" y1="60" x2="2" y2="63.5" stroke="#b4b4b4" stroke-width="3.2" stroke-linecap="round"/>
<line x1="24" y1="60" x2="30.5" y2="64.5" stroke="#b4b4b4" stroke-width="3.2" stroke-linecap="round"/>
<line x1="13.5" y1="62" x2="13.5" y2="74" stroke="#b4b4b4" stroke-width="3.2" stroke-linecap="round"/>
<path d="M9.00,-2.00 C6.95,-0.88 7.88,2.42 7.20,4.70 C6.52,6.98 5.38,8.98 4.90,11.70 C4.42,14.42 4.30,17.50 4.30,21.00 C4.30,24.50 4.80,28.82 4.90,32.70 C5.00,36.58 5.00,40.80 4.90,44.30 C4.80,47.80 4.20,51.08 4.30,53.70 C4.40,56.32 4.72,58.45 5.50,60.00 C6.28,61.55 6.58,62.50 9.00,63.00 C11.42,63.50 17.33,63.50 20.00,63.00 C22.67,62.50 24.00,61.55 25.00,60.00 C26.00,58.45 25.95,56.32 26.00,53.70 C26.05,51.08 25.60,47.80 25.30,44.30 C25.00,40.80 24.48,36.58 24.20,32.70 C23.92,28.82 23.80,24.50 23.60,21.00 C23.40,17.50 23.40,14.42 23.00,11.70 C22.60,8.98 21.78,6.98 21.20,4.70 C20.62,2.42 21.53,-0.88 19.50,-2.00 C17.47,-3.12 11.05,-3.12 9.00,-2.00 Z" fill="url(#gm)" filter="url(#mottle)" />
<path d="M12.00,-2.00 C10.95,-0.88 10.88,2.42 10.20,4.70 C9.52,6.98 8.38,8.98 7.90,11.70 C7.42,14.42 7.30,17.50 7.30,21.00 C7.30,24.50 7.80,28.82 7.90,32.70 C8.00,36.58 8.00,40.80 7.90,44.30 C7.80,47.80 7.20,51.08 7.30,53.70 C7.40,56.32 7.72,58.45 8.50,60.00 C9.28,61.55 10.58,62.50 12.00,63.00 C13.42,63.50 15.33,63.50 17.00,63.00 C18.67,62.50 21.00,61.55 22.00,60.00 C23.00,58.45 22.95,56.32 23.00,53.70 C23.05,51.08 22.60,47.80 22.30,44.30 C22.00,40.80 21.48,36.58 21.20,32.70 C20.92,28.82 20.80,24.50 20.60,21.00 C20.40,17.50 20.40,14.42 20.00,11.70 C19.60,8.98 18.78,6.98 18.20,4.70 C17.62,2.42 17.53,-0.88 16.50,-2.00 C15.47,-3.12 13.05,-3.12 12.00,-2.00 Z" fill="url(#gm2)" filter="url(#bl1)" opacity="0.8"/>
<ellipse cx="11" cy="14" rx="4" ry="4" fill="#a0a0a0" filter="url(#bl2)"/>
<ellipse cx="19" cy="18" rx="3" ry="5" fill="#a8a8a8" filter="url(#bl2)"/>
<ellipse cx="14" cy="26" rx="5" ry="3" fill="#b0b0b0" filter="url(#bl2)"/>
</g>
<g transform="translate(52.2,254.3)" filter="url(#heatS)">
<rect x="-2" y="-2" width="36.8" height="76.3" fill="#000"/>
<ellipse cx="18.9" cy="33.8" rx="2.4" ry="2.5" fill="rgb(82,82,82)"/>
</g></g>
<clipPath id="m12"><rect x="87.6" y="254.3" width="32.8" height="72.3"/></clipPath>
<g clip-path="url(#m12)">
<rect x="87.6" y="254.3" width="32.8" height="72.3" fill="#202020" />
<rect x="88.6" y="254.3" width="1" height="72.3" fill="#272727" />
<rect x="91.6" y="254.3" width="1" height="72.3" fill="#272727" />
<rect x="94.6" y="254.3" width="1" height="72.3" fill="#272727" />
<rect x="97.6" y="254.3" width="1" height="72.3" fill="#272727" />
<rect x="100.6" y="254.3" width="1" height="72.3" fill="#272727" />
<rect x="103.6" y="254.3" width="1" height="72.3" fill="#272727" />
<rect x="106.6" y="254.3" width="1" height="72.3" fill="#272727" />
<rect x="109.6" y="254.3" width="1" height="72.3" fill="#272727" />
<rect x="112.6" y="254.3" width="1" height="72.3" fill="#272727" />
<rect x="115.6" y="254.3" width="1" height="72.3" fill="#272727" />
<rect x="118.6" y="254.3" width="1" height="72.3" fill="#272727" />
<g transform="translate(87.6,254.3)">
<line x1="8" y1="60" x2="3" y2="68" stroke="#b4b4b4" stroke-width="3.2" stroke-linecap="round"/>
<line x1="21" y1="59" x2="25" y2="64" stroke="#b4b4b4" stroke-width="3.2" stroke-linecap="round"/>
<line x1="13.5" y1="62" x2="13" y2="74" stroke="#b4b4b4" stroke-width="3.2" stroke-linecap="round"/>
<path d="M12.00,-2.00 C11.02,-1.47 12.38,-0.68 12.00,1.20 C11.62,3.08 10.87,6.38 9.70,9.30 C8.53,12.22 5.48,15.58 5.00,18.70 C4.52,21.82 6.80,24.70 6.80,28.00 C6.80,31.30 5.20,34.80 5.00,38.50 C4.80,42.20 5.30,46.70 5.60,50.20 C5.90,53.70 6.07,57.37 6.80,59.50 C7.53,61.63 7.63,62.42 10.00,63.00 C12.37,63.58 18.62,63.58 21.00,63.00 C23.38,62.42 23.55,61.63 24.30,59.50 C25.05,57.37 25.12,53.70 25.50,50.20 C25.88,46.70 26.70,42.20 26.60,38.50 C26.50,34.80 25.38,31.30 24.90,28.00 C24.42,24.70 24.38,21.82 23.70,18.70 C23.02,15.58 21.77,12.22 20.80,9.30 C19.83,6.38 18.38,3.08 17.90,1.20 C17.42,-0.68 18.88,-1.47 17.90,-2.00 C16.92,-2.53 12.98,-2.53 12.00,-2.00 Z" fill="url(#gm)" filter="url(#mottle)" />
<path d="M12.70,9.30 C11.07,10.87 8.48,15.58 8.00,18.70 C7.52,21.82 9.80,24.70 9.80,28.00 C9.80,31.30 8.20,34.80 8.00,38.50 C7.80,42.20 8.30,46.70 8.60,50.20 C8.90,53.70 9.07,57.37 9.80,59.50 C10.53,61.63 11.63,62.42 13.00,63.00 C14.37,63.58 16.62,63.58 18.00,63.00 C19.38,62.42 20.55,61.63 21.30,59.50 C22.05,57.37 22.12,53.70 22.50,50.20 C22.88,46.70 23.70,42.20 23.60,38.50 C23.50,34.80 22.38,31.30 21.90,28.00 C21.42,24.70 21.38,21.82 20.70,18.70 C20.02,15.58 19.13,10.87 17.80,9.30 C16.47,7.73 14.33,7.73 12.70,9.30 Z" fill="url(#gm2)" filter="url(#bl1)" opacity="0.8"/>
<ellipse cx="13" cy="24" rx="5" ry="4" fill="#a0a0a0" filter="url(#bl2)"/>
</g>
<g transform="translate(87.6,254.3)" filter="url(#heatS)">
<rect x="-2" y="-2" width="36.8" height="76.3" fill="#000"/>
<path d="M8.00,31.00 C4.92,31.67 5.92,32.67 5.50,35.00 C5.08,37.33 5.25,42.17 5.50,45.00 C5.75,47.83 6.08,49.83 7.00,52.00 C7.92,54.17 8.83,57.00 11.00,58.00 C13.17,59.00 17.67,59.00 20.00,58.00 C22.33,57.00 23.83,54.17 25.00,52.00 C26.17,49.83 26.67,47.83 27.00,45.00 C27.33,42.17 27.50,37.33 27.00,35.00 C26.50,32.67 27.17,31.67 24.00,31.00 C20.83,30.33 11.08,30.33 8.00,31.00 Z" fill="rgb(48,48,48)"/>
<ellipse cx="10" cy="42" rx="4" ry="6" fill="rgb(66,66,66)"/>
<ellipse cx="9" cy="45" rx="3.5" ry="4" fill="rgb(87,87,87)"/>
<ellipse cx="23.6" cy="42" rx="3" ry="5.5" fill="rgb(158,158,158)"/>
<ellipse cx="23.6" cy="42" rx="1.4" ry="2" fill="rgb(255,255,255)"/>
<ellipse cx="14.5" cy="33" rx="3" ry="2" fill="rgb(0,0,0)"/>
<ellipse cx="19" cy="36.5" rx="1.8" ry="2.5" fill="rgb(0,0,0)"/>
<ellipse cx="19.5" cy="51" rx="2" ry="2" fill="rgb(5,5,5)"/>
<ellipse cx="12" cy="53" rx="1.5" ry="1.5" fill="rgb(13,13,13)"/>
<ellipse cx="13" cy="16.1" rx="1.5" ry="1.5" fill="rgb(64,64,64)"/>
<ellipse cx="16.1" cy="15.8" rx="1.5" ry="1.5" fill="rgb(64,64,64)"/>
<ellipse cx="12.6" cy="63" rx="1.2" ry="1.2" fill="rgb(56,56,56)"/>
</g></g>
<clipPath id="m13"><rect x="124.1" y="254.3" width="32.8" height="72.3"/></clipPath>
<g clip-path="url(#m13)">
<rect x="124.1" y="254.3" width="32.8" height="72.3" fill="#202020" />
<rect x="125.1" y="254.3" width="1" height="72.3" fill="#272727" />
<rect x="128.1" y="254.3" width="1" height="72.3" fill="#272727" />
<rect x="131.1" y="254.3" width="1" height="72.3" fill="#272727" />
<rect x="134.1" y="254.3" width="1" height="72.3" fill="#272727" />
<rect x="137.1" y="254.3" width="1" height="72.3" fill="#272727" />
<rect x="140.1" y="254.3" width="1" height="72.3" fill="#272727" />
<rect x="143.1" y="254.3" width="1" height="72.3" fill="#272727" />
<rect x="146.1" y="254.3" width="1" height="72.3" fill="#272727" />
<rect x="149.1" y="254.3" width="1" height="72.3" fill="#272727" />
<rect x="152.1" y="254.3" width="1" height="72.3" fill="#272727" />
<rect x="155.1" y="254.3" width="1" height="72.3" fill="#272727" />
<g transform="translate(124.1,254.3)">
</g>
<g transform="translate(124.1,254.3)" filter="url(#heat)">
<rect x="-2" y="-2" width="36.8" height="76.3" fill="#000"/>
<line x1="1.0" y1="5" x2="1.0" y2="66" stroke="rgb(61,61,61)" stroke-width="1.8" stroke-linecap="round"/>
<path d="M10.70,-3.00 C8.95,-1.72 11.15,2.20 10.20,4.70 C9.25,7.20 6.03,9.45 5.00,12.00 C3.97,14.55 4.08,16.55 4.00,20.00 C3.92,23.45 3.92,28.53 4.50,32.70 C5.08,36.87 6.75,41.28 7.50,45.00 C8.25,48.72 8.58,52.17 9.00,55.00 C9.42,57.83 9.42,58.83 10.00,62.00 C10.58,65.17 11.40,72.00 12.50,74.00 C13.60,76.00 15.63,76.00 16.60,74.00 C17.57,72.00 17.57,65.17 18.30,62.00 C19.03,58.83 20.22,57.83 21.00,55.00 C21.78,52.17 22.57,48.72 23.00,45.00 C23.43,41.28 23.27,36.87 23.60,32.70 C23.93,28.53 24.85,23.45 25.00,20.00 C25.15,16.55 25.17,14.55 24.50,12.00 C23.83,9.45 21.63,7.20 21.00,4.70 C20.37,2.20 22.42,-1.72 20.70,-3.00 C18.98,-4.28 12.45,-4.28 10.70,-3.00 Z" fill="rgb(112,112,112)"/>
<ellipse cx="5.5" cy="8" rx="3.4" ry="5" fill="rgb(107,107,107)"/>
<ellipse cx="5.5" cy="6.6" rx="1.4" ry="1.6" fill="rgb(255,255,255)"/>
<ellipse cx="23" cy="9" rx="3" ry="5.5" fill="rgb(128,128,128)"/>
<ellipse cx="23" cy="7.5" rx="1.3" ry="1.6" fill="rgb(204,204,204)"/>
<ellipse cx="21.5" cy="16" rx="2" ry="2" fill="rgb(140,140,140)"/>
<ellipse cx="29" cy="54" rx="2.4" ry="2.2" fill="rgb(115,115,115)"/>
<ellipse cx="29" cy="53.7" rx="1.0" ry="1.0" fill="rgb(255,255,255)"/>
<line x1="23" y1="52" x2="28" y2="54" stroke="rgb(89,89,89)" stroke-width="2.5" stroke-linecap="round"/>
<ellipse cx="16" cy="44" rx="6.5" ry="12" fill="rgb(140,140,140)"/>
<ellipse cx="15.5" cy="42" rx="4" ry="7.5" fill="rgb(173,173,173)"/>
<ellipse cx="12" cy="25" rx="2" ry="3" fill="rgb(133,133,133)"/>
<ellipse cx="19" cy="27" rx="2" ry="2.5" fill="rgb(128,128,128)"/>
<ellipse cx="9.5" cy="37" rx="2" ry="3" fill="rgb(122,122,122)"/>
<ellipse cx="14.8" cy="48.4" rx="2.3" ry="2.3" fill="rgb(255,255,255)"/>
<ellipse cx="16.6" cy="55" rx="2.1" ry="3.6" fill="rgb(255,255,255)"/>
<ellipse cx="16" cy="35" rx="1.2" ry="1.6" fill="rgb(230,230,230)"/>
<ellipse cx="15.4" cy="0.6" rx="2.6" ry="2.2" fill="rgb(255,255,255)"/>
<ellipse cx="17.2" cy="8.2" rx="2.2" ry="2.4" fill="rgb(217,217,217)"/>
<ellipse cx="12.5" cy="19.3" rx="2" ry="2.5" fill="rgb(143,143,143)"/>
<ellipse cx="8" cy="17" rx="2" ry="3" fill="rgb(56,56,56)"/>
<ellipse cx="7" cy="30" rx="1.5" ry="5" fill="rgb(71,71,71)"/>
</g></g>
<clipPath id="m14"><rect x="161.1" y="254.3" width="32.8" height="72.3"/></clipPath>
<g clip-path="url(#m14)">
<rect x="161.1" y="254.3" width="32.8" height="72.3" fill="#202020" />
<rect x="162.1" y="254.3" width="1" height="72.3" fill="#272727" />
<rect x="165.1" y="254.3" width="1" height="72.3" fill="#272727" />
<rect x="168.1" y="254.3" width="1" height="72.3" fill="#272727" />
<rect x="171.1" y="254.3" width="1" height="72.3" fill="#272727" />
<rect x="174.1" y="254.3" width="1" height="72.3" fill="#272727" />
<rect x="177.1" y="254.3" width="1" height="72.3" fill="#272727" />
<rect x="180.1" y="254.3" width="1" height="72.3" fill="#272727" />
<rect x="183.1" y="254.3" width="1" height="72.3" fill="#272727" />
<rect x="186.1" y="254.3" width="1" height="72.3" fill="#272727" />
<rect x="189.1" y="254.3" width="1" height="72.3" fill="#272727" />
<rect x="192.1" y="254.3" width="1" height="72.3" fill="#272727" />
<g transform="translate(161.1,254.3)">
</g>
<g transform="translate(161.1,254.3)" filter="url(#heat)">
<rect x="-2" y="-2" width="36.8" height="76.3" fill="#000"/>
<path d="M14.00,-3.00 C12.42,-2.00 14.42,1.25 14.00,3.00 C13.58,4.75 13.02,6.17 11.50,7.50 C9.98,8.83 6.10,8.75 4.90,11.00 C3.70,13.25 4.30,16.42 4.30,21.00 C4.30,25.58 4.80,33.25 4.90,38.50 C5.00,43.75 4.95,48.80 4.90,52.50 C4.85,56.20 4.25,58.45 4.60,60.70 C4.95,62.95 5.77,64.45 7.00,66.00 C8.23,67.55 9.83,69.33 12.00,70.00 C14.17,70.67 17.83,70.67 20.00,70.00 C22.17,69.33 23.80,67.55 25.00,66.00 C26.20,64.45 26.75,62.95 27.20,60.70 C27.65,58.45 27.73,56.20 27.70,52.50 C27.67,48.80 27.20,43.75 27.00,38.50 C26.80,33.25 26.83,25.58 26.50,21.00 C26.17,16.42 25.42,13.25 25.00,11.00 C24.58,8.75 24.25,8.83 24.00,7.50 C23.75,6.17 23.58,4.75 23.50,3.00 C23.42,1.25 25.08,-2.00 23.50,-3.00 C21.92,-4.00 15.58,-4.00 14.00,-3.00 Z" fill="rgb(117,117,117)"/>
<line x1="6" y1="62" x2="4" y2="69" stroke="rgb(107,107,107)" stroke-width="3.5" stroke-linecap="round"/>
<line x1="24" y1="63" x2="27" y2="71" stroke="rgb(107,107,107)" stroke-width="3.5" stroke-linecap="round"/>
<line x1="15" y1="62" x2="15" y2="74" stroke="rgb(107,107,107)" stroke-width="4" stroke-linecap="round"/>
<path d="M10.00,9.00 C7.58,10.83 7.92,14.83 7.50,20.00 C7.08,25.17 7.50,34.17 7.50,40.00 C7.50,45.83 7.25,51.33 7.50,55.00 C7.75,58.67 6.25,60.83 9.00,62.00 C11.75,63.17 21.33,63.17 24.00,62.00 C26.67,60.83 24.83,58.67 25.00,55.00 C25.17,51.33 25.08,45.83 25.00,40.00 C24.92,34.17 25.00,25.17 24.50,20.00 C24.00,14.83 24.42,10.83 22.00,9.00 C19.58,7.17 12.42,7.17 10.00,9.00 Z" fill="rgb(148,148,148)"/>
<ellipse cx="16.5" cy="28" rx="2.5" ry="6" fill="rgb(112,112,112)"/>
<ellipse cx="15.4" cy="44.3" rx="7" ry="6.5" fill="rgb(173,173,173)"/>
<ellipse cx="15.6" cy="44.3" rx="3.8" ry="3.6" fill="rgb(255,255,255)"/>
<ellipse cx="10.5" cy="47" rx="1.5" ry="1.5" fill="rgb(230,230,230)"/>
<ellipse cx="20" cy="48" rx="1.5" ry="1.5" fill="rgb(217,217,217)"/>
<ellipse cx="18.9" cy="3.8" rx="3.1" ry="4.4" fill="rgb(255,255,255)"/>
<ellipse cx="6.7" cy="16.3" rx="2.5" ry="3.3" fill="rgb(255,255,255)"/>
<ellipse cx="10.7" cy="19.3" rx="2.3" ry="3.8" fill="rgb(255,255,255)"/>
<ellipse cx="18.3" cy="15.2" rx="2.3" ry="1.8" fill="rgb(255,255,255)"/>
<ellipse cx="22.4" cy="22.2" rx="2.3" ry="3.3" fill="rgb(255,255,255)"/>
<ellipse cx="9" cy="60.7" rx="2.5" ry="3.3" fill="rgb(255,255,255)"/>
<ellipse cx="14.8" cy="63.5" rx="2.5" ry="4.3" fill="rgb(255,255,255)"/>
<ellipse cx="22.4" cy="61.8" rx="2.3" ry="3.3" fill="rgb(255,255,255)"/>
<ellipse cx="5.5" cy="66.5" rx="1.8" ry="2.3" fill="rgb(255,255,255)"/>
<ellipse cx="26.5" cy="70.5" rx="1.8" ry="1.8" fill="rgb(255,255,255)"/>
</g></g>
<clipPath id="m15"><rect x="197.4" y="254.3" width="32.8" height="72.3"/></clipPath>
<g clip-path="url(#m15)">
<rect x="197.4" y="254.3" width="32.8" height="72.3" fill="#202020" />
<rect x="198.4" y="254.3" width="1" height="72.3" fill="#272727" />
<rect x="201.4" y="254.3" width="1" height="72.3" fill="#272727" />
<rect x="204.4" y="254.3" width="1" height="72.3" fill="#272727" />
<rect x="207.4" y="254.3" width="1" height="72.3" fill="#272727" />
<rect x="210.4" y="254.3" width="1" height="72.3" fill="#272727" />
<rect x="213.4" y="254.3" width="1" height="72.3" fill="#272727" />
<rect x="216.4" y="254.3" width="1" height="72.3" fill="#272727" />
<rect x="219.4" y="254.3" width="1" height="72.3" fill="#272727" />
<rect x="222.4" y="254.3" width="1" height="72.3" fill="#272727" />
<rect x="225.4" y="254.3" width="1" height="72.3" fill="#272727" />
<rect x="228.4" y="254.3" width="1" height="72.3" fill="#272727" />
<g transform="translate(197.4,254.3)">
</g>
<g transform="translate(197.4,254.3)" filter="url(#heat)">
<rect x="-2" y="-2" width="36.8" height="76.3" fill="#000"/>
<path d="M8.80,-3.00 C7.27,-1.83 8.90,1.75 8.80,4.00 C8.70,6.25 8.78,7.67 8.20,10.50 C7.62,13.33 5.70,16.72 5.30,21.00 C4.90,25.28 5.72,31.33 5.80,36.20 C5.88,41.07 5.18,46.12 5.80,50.20 C6.42,54.28 8.03,56.73 9.50,60.70 C10.97,64.67 13.37,71.78 14.60,74.00 C15.83,76.22 16.08,76.22 16.90,74.00 C17.72,71.78 18.23,64.67 19.50,60.70 C20.77,56.73 23.75,54.28 24.50,50.20 C25.25,46.12 24.28,41.07 24.00,36.20 C23.72,31.33 23.30,25.28 22.80,21.00 C22.30,16.72 21.72,13.33 21.00,10.50 C20.28,7.67 19.00,6.25 18.50,4.00 C18.00,1.75 19.62,-1.83 18.00,-3.00 C16.38,-4.17 10.33,-4.17 8.80,-3.00 Z" fill="rgb(105,105,105)"/>
<ellipse cx="6.5" cy="30" rx="2" ry="13" fill="rgb(46,46,46)"/>
<ellipse cx="5.3" cy="14.5" rx="2.8" ry="4.5" fill="rgb(128,128,128)"/>
<ellipse cx="24.7" cy="17" rx="2.5" ry="2.8" fill="rgb(166,166,166)"/>
<line x1="25" y1="55" x2="32" y2="55.5" stroke="rgb(115,115,115)" stroke-width="3" stroke-linecap="round"/>
<line x1="25.5" y1="55" x2="32" y2="55.4" stroke="rgb(255,255,255)" stroke-width="1.5" stroke-linecap="round"/>
<path d="M9.00,32.50 C6.47,33.08 8.42,34.08 8.30,36.00 C8.18,37.92 7.93,41.67 8.30,44.00 C8.67,46.33 9.63,47.67 10.50,50.00 C11.37,52.33 11.92,56.67 13.50,58.00 C15.08,59.33 18.50,59.33 20.00,58.00 C21.50,56.67 21.75,52.33 22.50,50.00 C23.25,47.67 24.17,46.33 24.50,44.00 C24.83,41.67 24.67,37.92 24.50,36.00 C24.33,34.08 26.08,33.08 23.50,32.50 C20.92,31.92 11.53,31.92 9.00,32.50 Z" fill="rgb(143,143,143)"/>
<ellipse cx="13.6" cy="40.5" rx="3.6" ry="5.2" fill="rgb(255,255,255)"/>
<ellipse cx="19.6" cy="40.5" rx="3.6" ry="5.2" fill="rgb(255,255,255)"/>
<ellipse cx="16.6" cy="45.5" rx="5.2" ry="5" fill="rgb(255,255,255)"/>
<ellipse cx="17.4" cy="53.5" rx="1.9" ry="3.8" fill="rgb(255,255,255)"/>
<line x1="10.8" y1="57.5" x2="16.5" y2="62" stroke="rgb(255,255,255)" stroke-width="2.2" stroke-linecap="round"/>
<ellipse cx="15.2" cy="15.2" rx="2.4" ry="2.8" fill="rgb(140,140,140)"/>
<ellipse cx="15.2" cy="16.3" rx="1.2" ry="1.5" fill="rgb(255,255,255)"/>
<ellipse cx="14.6" cy="2.3" rx="1.5" ry="2.3" fill="rgb(255,255,255)"/>
<ellipse cx="15" cy="25" rx="3" ry="5" fill="rgb(115,115,115)"/>
</g></g>
<clipPath id="m21"><rect x="52.2" y="330.3" width="32.8" height="72.3"/></clipPath>
<g clip-path="url(#m21)">
<rect x="52.2" y="330.3" width="32.8" height="72.3" fill="#202020" />
<rect x="53.2" y="330.3" width="1" height="72.3" fill="#272727" />
<rect x="56.2" y="330.3" width="1" height="72.3" fill="#272727" />
<rect x="59.2" y="330.3" width="1" height="72.3" fill="#272727" />
<rect x="62.2" y="330.3" width="1" height="72.3" fill="#272727" />
<rect x="65.2" y="330.3" width="1" height="72.3" fill="#272727" />
<rect x="68.2" y="330.3" width="1" height="72.3" fill="#272727" />
<rect x="71.2" y="330.3" width="1" height="72.3" fill="#272727" />
<rect x="74.2" y="330.3" width="1" height="72.3" fill="#272727" />
<rect x="77.2" y="330.3" width="1" height="72.3" fill="#272727" />
<rect x="80.2" y="330.3" width="1" height="72.3" fill="#272727" />
<rect x="83.2" y="330.3" width="1" height="72.3" fill="#272727" />
<g transform="translate(52.2,330.3)">
<line x1="6" y1="60" x2="2.5" y2="71" stroke="#b4b4b4" stroke-width="3.2" stroke-linecap="round"/>
<line x1="26" y1="60" x2="29.5" y2="71" stroke="#b4b4b4" stroke-width="3.2" stroke-linecap="round"/>
<line x1="16" y1="63" x2="16" y2="74" stroke="#b4b4b4" stroke-width="3.2" stroke-linecap="round"/>
<path d="M11.70,-2.00 C9.77,-0.12 9.57,5.47 8.20,9.30 C6.83,13.13 4.08,17.10 3.50,21.00 C2.92,24.90 4.80,28.42 4.70,32.70 C4.60,36.98 3.30,42.82 2.90,46.70 C2.50,50.58 2.12,53.28 2.30,56.00 C2.48,58.72 2.72,61.33 4.00,63.00 C5.28,64.67 7.00,65.50 10.00,66.00 C13.00,66.50 19.08,66.50 22.00,66.00 C24.92,65.50 26.30,64.67 27.50,63.00 C28.70,61.33 29.12,58.72 29.20,56.00 C29.28,53.28 28.40,50.58 28.00,46.70 C27.60,42.82 26.90,36.98 26.80,32.70 C26.70,28.42 27.78,24.90 27.40,21.00 C27.02,17.10 25.77,13.13 24.50,9.30 C23.23,5.47 21.93,-0.12 19.80,-2.00 C17.67,-3.88 13.63,-3.88 11.70,-2.00 Z" fill="url(#gm)" filter="url(#mottle)" />
<path d="M14.70,-2.00 C13.77,-0.12 12.57,5.47 11.20,9.30 C9.83,13.13 7.08,17.10 6.50,21.00 C5.92,24.90 7.80,28.42 7.70,32.70 C7.60,36.98 6.30,42.82 5.90,46.70 C5.50,50.58 5.12,53.28 5.30,56.00 C5.48,58.72 5.72,61.33 7.00,63.00 C8.28,64.67 11.00,65.50 13.00,66.00 C15.00,66.50 17.08,66.50 19.00,66.00 C20.92,65.50 23.30,64.67 24.50,63.00 C25.70,61.33 26.12,58.72 26.20,56.00 C26.28,53.28 25.40,50.58 25.00,46.70 C24.60,42.82 23.90,36.98 23.80,32.70 C23.70,28.42 24.78,24.90 24.40,21.00 C24.02,17.10 22.77,13.13 21.50,9.30 C20.23,5.47 17.93,-0.12 16.80,-2.00 C15.67,-3.88 15.63,-3.88 14.70,-2.00 Z" fill="url(#gm2)" filter="url(#bl1)" opacity="0.8"/>
<ellipse cx="17" cy="22" rx="5" ry="4" fill="#b0b0b0" filter="url(#bl2)"/>
<ellipse cx="13" cy="11" rx="3" ry="3" fill="#a8a8a8" filter="url(#bl2)"/>
<ellipse cx="27.5" cy="18" rx="1.5" ry="3" fill="#b8b8b8" filter="url(#bl05)"/>
</g>
<g transform="translate(52.2,330.3)" filter="url(#heatS)">
<rect x="-2" y="-2" width="36.8" height="76.3" fill="#000"/>
<ellipse cx="22.2" cy="40.8" rx="3" ry="3" fill="rgb(76,76,76)"/>
<ellipse cx="12.3" cy="13.4" rx="1.3" ry="1.3" fill="rgb(61,61,61)"/>
</g></g>
<clipPath id="m22"><rect x="87.6" y="330.3" width="32.8" height="72.3"/></clipPath>
<g clip-path="url(#m22)">
<rect x="87.6" y="330.3" width="32.8" height="72.3" fill="#202020" />
<rect x="88.6" y="330.3" width="1" height="72.3" fill="#272727" />
<rect x="91.6" y="330.3" width="1" height="72.3" fill="#272727" />
<rect x="94.6" y="330.3" width="1" height="72.3" fill="#272727" />
<rect x="97.6" y="330.3" width="1" height="72.3" fill="#272727" />
<rect x="100.6" y="330.3" width="1" height="72.3" fill="#272727" />
<rect x="103.6" y="330.3" width="1" height="72.3" fill="#272727" />
<rect x="106.6" y="330.3" width="1" height="72.3" fill="#272727" />
<rect x="109.6" y="330.3" width="1" height="72.3" fill="#272727" />
<rect x="112.6" y="330.3" width="1" height="72.3" fill="#272727" />
<rect x="115.6" y="330.3" width="1" height="72.3" fill="#272727" />
<rect x="118.6" y="330.3" width="1" height="72.3" fill="#272727" />
<g transform="translate(87.6,330.3)">
<line x1="11" y1="62" x2="7" y2="71" stroke="#b4b4b4" stroke-width="3.2" stroke-linecap="round"/>
<line x1="25" y1="60" x2="27" y2="70" stroke="#b4b4b4" stroke-width="3.2" stroke-linecap="round"/>
<line x1="18" y1="63" x2="17" y2="74" stroke="#b4b4b4" stroke-width="3.2" stroke-linecap="round"/>
<line x1="7" y1="18" x2="4.5" y2="24" stroke="#b4b4b4" stroke-width="3.2" stroke-linecap="round"/>
<path d="M14.00,-2.00 C13.12,-1.47 14.87,-1.27 14.00,1.20 C13.13,3.67 9.87,8.53 8.80,12.80 C7.73,17.07 8.10,21.55 7.60,26.80 C7.10,32.05 5.90,39.05 5.80,44.30 C5.70,49.55 6.30,55.02 7.00,58.30 C7.70,61.58 6.83,63.05 10.00,64.00 C13.17,64.95 22.80,64.95 26.00,64.00 C29.20,63.05 28.77,61.58 29.20,58.30 C29.63,55.02 28.90,49.55 28.60,44.30 C28.30,39.05 27.88,32.05 27.40,26.80 C26.92,21.55 27.05,17.07 25.70,12.80 C24.35,8.53 20.37,3.67 19.30,1.20 C18.23,-1.27 20.18,-1.47 19.30,-2.00 C18.42,-2.53 14.88,-2.53 14.00,-2.00 Z" fill="url(#gm)" filter="url(#mottle)" />
<path d="M11.80,12.80 C9.78,15.13 11.10,21.55 10.60,26.80 C10.10,32.05 8.90,39.05 8.80,44.30 C8.70,49.55 9.30,55.02 10.00,58.30 C10.70,61.58 10.83,63.05 13.00,64.00 C15.17,64.95 20.80,64.95 23.00,64.00 C25.20,63.05 25.77,61.58 26.20,58.30 C26.63,55.02 25.90,49.55 25.60,44.30 C25.30,39.05 24.88,32.05 24.40,26.80 C23.92,21.55 24.80,15.13 22.70,12.80 C20.60,10.47 13.82,10.47 11.80,12.80 Z" fill="url(#gm2)" filter="url(#bl1)" opacity="0.8"/>
</g>
<g transform="translate(87.6,330.3)" filter="url(#heatS)">
<rect x="-2" y="-2" width="36.8" height="76.3" fill="#000"/>
<path d="M10.00,29.00 C7.17,29.67 7.58,30.33 7.00,33.00 C6.42,35.67 6.25,41.67 6.50,45.00 C6.75,48.33 7.25,50.83 8.50,53.00 C9.75,55.17 11.92,57.17 14.00,58.00 C16.08,58.83 19.00,58.83 21.00,58.00 C23.00,57.17 24.92,55.17 26.00,53.00 C27.08,50.83 27.33,48.33 27.50,45.00 C27.67,41.67 27.58,35.67 27.00,33.00 C26.42,30.33 26.83,29.67 24.00,29.00 C21.17,28.33 12.83,28.33 10.00,29.00 Z" fill="rgb(51,51,51)"/>
<ellipse cx="15.8" cy="42" rx="7" ry="7" fill="rgb(76,76,76)"/>
<ellipse cx="15.8" cy="42" rx="3.8" ry="3.8" fill="rgb(107,107,107)"/>
<ellipse cx="15.8" cy="42" rx="1.6" ry="1.6" fill="rgb(158,158,158)"/>
<ellipse cx="16.9" cy="7" rx="2.3" ry="3.5" fill="rgb(51,51,51)"/>
<ellipse cx="16.5" cy="17" rx="5" ry="3.5" fill="rgb(61,61,61)"/>
<ellipse cx="15.2" cy="16.3" rx="1.3" ry="1.1" fill="rgb(97,97,97)"/>
<ellipse cx="22" cy="23" rx="3" ry="6" fill="rgb(48,48,48)"/>
<ellipse cx="11.5" cy="25" rx="2.5" ry="3" fill="rgb(0,0,0)"/>
<ellipse cx="22.2" cy="62.4" rx="1.8" ry="1.8" fill="rgb(51,51,51)"/>
<ellipse cx="15" cy="60" rx="1.1" ry="1.1" fill="rgb(51,51,51)"/>
</g></g>
<clipPath id="m23"><rect x="124.1" y="330.3" width="32.8" height="72.3"/></clipPath>
<g clip-path="url(#m23)">
<rect x="124.1" y="330.3" width="32.8" height="72.3" fill="#202020" />
<rect x="125.1" y="330.3" width="1" height="72.3" fill="#272727" />
<rect x="128.1" y="330.3" width="1" height="72.3" fill="#272727" />
<rect x="131.1" y="330.3" width="1" height="72.3" fill="#272727" />
<rect x="134.1" y="330.3" width="1" height="72.3" fill="#272727" />
<rect x="137.1" y="330.3" width="1" height="72.3" fill="#272727" />
<rect x="140.1" y="330.3" width="1" height="72.3" fill="#272727" />
<rect x="143.1" y="330.3" width="1" height="72.3" fill="#272727" />
<rect x="146.1" y="330.3" width="1" height="72.3" fill="#272727" />
<rect x="149.1" y="330.3" width="1" height="72.3" fill="#272727" />
<rect x="152.1" y="330.3" width="1" height="72.3" fill="#272727" />
<rect x="155.1" y="330.3" width="1" height="72.3" fill="#272727" />
<g transform="translate(124.1,330.3)">
</g>
<g transform="translate(124.1,330.3)" filter="url(#heat)">
<rect x="-2" y="-2" width="36.8" height="76.3" fill="#000"/>
<path d="M13.00,0.50 C11.67,1.42 12.83,3.92 11.50,6.00 C10.17,8.08 6.00,10.95 5.00,13.00 C4.00,15.05 5.12,15.03 5.50,18.30 C5.88,21.57 7.00,28.22 7.30,32.60 C7.60,36.98 7.35,40.37 7.30,44.60 C7.25,48.83 6.80,54.93 7.00,58.00 C7.20,61.07 7.83,61.50 8.50,63.00 C9.17,64.50 10.25,65.17 11.00,67.00 C11.75,68.83 11.83,72.83 13.00,74.00 C14.17,75.17 16.50,75.17 18.00,74.00 C19.50,72.83 20.33,68.83 22.00,67.00 C23.67,65.17 26.58,64.50 28.00,63.00 C29.42,61.50 30.27,61.07 30.50,58.00 C30.73,54.93 29.58,48.83 29.40,44.60 C29.22,40.37 29.30,36.98 29.40,32.60 C29.50,28.22 31.07,21.57 30.00,18.30 C28.93,15.03 24.50,15.05 23.00,13.00 C21.50,10.95 21.58,8.08 21.00,6.00 C20.42,3.92 20.83,1.42 19.50,0.50 C18.17,-0.42 14.33,-0.42 13.00,0.50 Z" fill="rgb(107,107,107)"/>
<path d="M9.00,22.00 C6.00,23.33 9.00,26.17 9.00,30.00 C9.00,33.83 9.17,40.00 9.00,45.00 C8.83,50.00 8.00,56.50 8.00,60.00 C8.00,63.50 5.50,65.00 9.00,66.00 C12.50,67.00 25.58,67.00 29.00,66.00 C32.42,65.00 29.67,63.50 29.50,60.00 C29.33,56.50 28.33,50.00 28.00,45.00 C27.67,40.00 27.67,33.83 27.50,30.00 C27.33,26.17 30.08,23.33 27.00,22.00 C23.92,20.67 12.00,20.67 9.00,22.00 Z" fill="rgb(140,140,140)"/>
<ellipse cx="16.5" cy="8" rx="5.6" ry="7.2" fill="rgb(38,38,38)"/>
<ellipse cx="16.5" cy="8" rx="4.4" ry="6.0" fill="rgb(255,255,255)"/>
<ellipse cx="7.3" cy="16.5" rx="3" ry="3.4" fill="rgb(158,158,158)"/>
<ellipse cx="7.3" cy="16.5" rx="1.7" ry="2.0" fill="rgb(255,255,255)"/>
<line x1="8" y1="62" x2="5" y2="73" stroke="rgb(107,107,107)" stroke-width="3" stroke-linecap="round"/>
<line x1="27" y1="62" x2="30" y2="70" stroke="rgb(115,115,115)" stroke-width="3" stroke-linecap="round"/>
<ellipse cx="18" cy="17.7" rx="2.8" ry="1.6" fill="rgb(242,242,242)"/>
<ellipse cx="26.4" cy="21.2" rx="1.6" ry="2" fill="rgb(204,204,204)"/>
<ellipse cx="21" cy="31.4" rx="4" ry="3" fill="rgb(87,87,87)"/>
<ellipse cx="18.5" cy="50" rx="10" ry="13.5" fill="rgb(168,168,168)"/>
<ellipse cx="15.5" cy="43" rx="4.5" ry="4.5" fill="rgb(255,255,255)"/>
<ellipse cx="13.5" cy="50" rx="3.6" ry="5" fill="rgb(255,255,255)"/>
<ellipse cx="22" cy="47" rx="4.5" ry="4" fill="rgb(255,255,255)"/>
<ellipse cx="23.5" cy="58" rx="4.5" ry="4.5" fill="rgb(255,255,255)"/>
<ellipse cx="17.5" cy="55" rx="3.5" ry="3.5" fill="rgb(255,255,255)"/>
<ellipse cx="12" cy="58" rx="2" ry="2" fill="rgb(255,255,255)"/>
<ellipse cx="19" cy="47" rx="1" ry="1" fill="rgb(178,178,178)"/>
<ellipse cx="8" cy="66" rx="1.5" ry="3" fill="rgb(140,140,140)"/>
<ellipse cx="29" cy="63" rx="2" ry="2" fill="rgb(255,255,255)"/>
</g></g>
<clipPath id="m24"><rect x="161.1" y="330.3" width="32.8" height="72.3"/></clipPath>
<g clip-path="url(#m24)">
<rect x="161.1" y="330.3" width="32.8" height="72.3" fill="#202020" />
<rect x="162.1" y="330.3" width="1" height="72.3" fill="#272727" />
<rect x="165.1" y="330.3" width="1" height="72.3" fill="#272727" />
<rect x="168.1" y="330.3" width="1" height="72.3" fill="#272727" />
<rect x="171.1" y="330.3" width="1" height="72.3" fill="#272727" />
<rect x="174.1" y="330.3" width="1" height="72.3" fill="#272727" />
<rect x="177.1" y="330.3" width="1" height="72.3" fill="#272727" />
<rect x="180.1" y="330.3" width="1" height="72.3" fill="#272727" />
<rect x="183.1" y="330.3" width="1" height="72.3" fill="#272727" />
<rect x="186.1" y="330.3" width="1" height="72.3" fill="#272727" />
<rect x="189.1" y="330.3" width="1" height="72.3" fill="#272727" />
<rect x="192.1" y="330.3" width="1" height="72.3" fill="#272727" />
<g transform="translate(161.1,330.3)">
</g>
<g transform="translate(161.1,330.3)" filter="url(#heat)">
<rect x="-2" y="-2" width="36.8" height="76.3" fill="#000"/>
<path d="M14.00,-3.00 C12.58,-2.00 14.63,1.05 14.00,3.00 C13.37,4.95 11.43,5.75 10.20,8.70 C8.97,11.65 7.00,15.72 6.60,20.70 C6.20,25.68 7.53,33.62 7.80,38.60 C8.07,43.58 8.00,47.70 8.20,50.60 C8.40,53.50 8.03,54.10 9.00,56.00 C9.97,57.90 11.00,61.00 14.00,62.00 C17.00,63.00 24.50,63.00 27.00,62.00 C29.50,61.00 28.53,57.90 29.00,56.00 C29.47,54.10 29.75,53.50 29.80,50.60 C29.85,47.70 29.58,43.58 29.30,38.60 C29.02,33.62 28.90,25.68 28.10,20.70 C27.30,15.72 25.35,11.65 24.50,8.70 C23.65,5.75 23.33,4.95 23.00,3.00 C22.67,1.05 24.00,-2.00 22.50,-3.00 C21.00,-4.00 15.42,-4.00 14.00,-3.00 Z" fill="rgb(102,102,102)"/>
<line x1="2" y1="53.3" x2="12.6" y2="53.3" stroke="rgb(107,107,107)" stroke-width="4.6" stroke-linecap="round"/>
<line x1="16.5" y1="52" x2="16.5" y2="73" stroke="rgb(107,107,107)" stroke-width="4.5" stroke-linecap="round"/>
<line x1="26.9" y1="53" x2="26.9" y2="66.5" stroke="rgb(107,107,107)" stroke-width="4.8" stroke-linecap="round"/>
<ellipse cx="13.8" cy="29" rx="5" ry="7" fill="rgb(61,61,61)"/>
<ellipse cx="16" cy="40" rx="4.5" ry="4.5" fill="rgb(140,140,140)"/>
<ellipse cx="25.5" cy="40" rx="3" ry="3.5" fill="rgb(140,140,140)"/>
<ellipse cx="18.6" cy="1.5" rx="3.3" ry="3.0" fill="rgb(255,255,255)"/>
<ellipse cx="15" cy="8.7" rx="3.5" ry="1.5" fill="rgb(184,184,184)"/>
<ellipse cx="8.4" cy="14.7" rx="2.4" ry="3.8" fill="rgb(255,255,255)"/>
<ellipse cx="19.2" cy="19.5" rx="3.3" ry="2.8" fill="rgb(255,255,255)"/>
<ellipse cx="15.6" cy="39.5" rx="2.2" ry="2.3" fill="rgb(255,255,255)"/>
<ellipse cx="25.7" cy="39.5" rx="1.7" ry="2.0" fill="rgb(255,255,255)"/>
<line x1="2" y1="53.3" x2="12.6" y2="53.3" stroke="rgb(255,255,255)" stroke-width="3.6" stroke-linecap="round"/>
<line x1="16.5" y1="52.5" x2="16.5" y2="73" stroke="rgb(255,255,255)" stroke-width="3.4" stroke-linecap="round"/>
<line x1="26.9" y1="53.5" x2="26.9" y2="66" stroke="rgb(255,255,255)" stroke-width="3.8" stroke-linecap="round"/>
</g></g>
<clipPath id="m25"><rect x="197.4" y="330.3" width="32.8" height="72.3"/></clipPath>
<g clip-path="url(#m25)">
<rect x="197.4" y="330.3" width="32.8" height="72.3" fill="#202020" />
<rect x="198.4" y="330.3" width="1" height="72.3" fill="#272727" />
<rect x="201.4" y="330.3" width="1" height="72.3" fill="#272727" />
<rect x="204.4" y="330.3" width="1" height="72.3" fill="#272727" />
<rect x="207.4" y="330.3" width="1" height="72.3" fill="#272727" />
<rect x="210.4" y="330.3" width="1" height="72.3" fill="#272727" />
<rect x="213.4" y="330.3" width="1" height="72.3" fill="#272727" />
<rect x="216.4" y="330.3" width="1" height="72.3" fill="#272727" />
<rect x="219.4" y="330.3" width="1" height="72.3" fill="#272727" />
<rect x="222.4" y="330.3" width="1" height="72.3" fill="#272727" />
<rect x="225.4" y="330.3" width="1" height="72.3" fill="#272727" />
<rect x="228.4" y="330.3" width="1" height="72.3" fill="#272727" />
<g transform="translate(197.4,330.3)">
</g>
<g transform="translate(197.4,330.3)" filter="url(#heat)">
<rect x="-2" y="-2" width="36.8" height="76.3" fill="#000"/>
<path d="M13.50,-3.00 C12.25,-2.00 13.67,1.05 13.00,3.00 C12.33,4.95 10.42,6.87 9.50,8.70 C8.58,10.53 7.58,11.02 7.50,14.00 C7.42,16.98 8.95,21.50 9.00,26.60 C9.05,31.70 7.97,39.60 7.80,44.60 C7.63,49.60 7.30,53.70 8.00,56.60 C8.70,59.50 9.00,61.10 12.00,62.00 C15.00,62.90 23.42,62.90 26.00,62.00 C28.58,61.10 27.15,59.50 27.50,56.60 C27.85,53.70 28.20,49.60 28.10,44.60 C28.00,39.60 26.58,31.70 26.90,26.60 C27.22,21.50 30.15,16.98 30.00,14.00 C29.85,11.02 27.50,10.53 26.00,8.70 C24.50,6.87 21.92,4.95 21.00,3.00 C20.08,1.05 21.75,-2.00 20.50,-3.00 C19.25,-4.00 14.75,-4.00 13.50,-3.00 Z" fill="rgb(107,107,107)"/>
<path d="M11.00,10.00 C8.67,11.67 10.17,16.67 10.00,20.00 C9.83,23.33 7.33,28.33 10.00,30.00 C12.67,31.67 23.42,31.67 26.00,30.00 C28.58,28.33 25.83,23.33 25.50,20.00 C25.17,16.67 26.42,11.67 24.00,10.00 C21.58,8.33 13.33,8.33 11.00,10.00 Z" fill="rgb(140,140,140)"/>
<line x1="4" y1="57.5" x2="10.5" y2="58.5" stroke="rgb(107,107,107)" stroke-width="3.8" stroke-linecap="round"/>
<line x1="16.3" y1="58" x2="16.3" y2="73" stroke="rgb(107,107,107)" stroke-width="3.8" stroke-linecap="round"/>
<line x1="24.5" y1="60" x2="26.8" y2="67" stroke="rgb(107,107,107)" stroke-width="3.8" stroke-linecap="round"/>
<ellipse cx="16.8" cy="1.5" rx="2.2" ry="2.7" fill="rgb(255,255,255)"/>
<ellipse cx="17.4" cy="12.9" rx="3.6" ry="3" fill="rgb(255,255,255)"/>
<ellipse cx="10.2" cy="15.9" rx="1.6" ry="2.1" fill="rgb(255,255,255)"/>
<ellipse cx="27.5" cy="14" rx="2.6" ry="3.1" fill="rgb(178,178,178)"/>
<ellipse cx="20.4" cy="27.2" rx="1.1" ry="1.3" fill="rgb(255,255,255)"/>
<path d="M11.00,33.50 C8.50,33.92 10.13,34.25 10.00,36.00 C9.87,37.75 9.95,41.67 10.20,44.00 C10.45,46.33 10.95,48.17 11.50,50.00 C12.05,51.83 12.75,53.58 13.50,55.00 C14.25,56.42 14.92,57.92 16.00,58.50 C17.08,59.08 18.83,59.08 20.00,58.50 C21.17,57.92 22.08,56.42 23.00,55.00 C23.92,53.58 24.92,51.83 25.50,50.00 C26.08,48.17 26.37,46.33 26.50,44.00 C26.63,41.67 26.55,37.75 26.30,36.00 C26.05,34.25 27.55,33.92 25.00,33.50 C22.45,33.08 13.50,33.08 11.00,33.50 Z" fill="rgb(255,255,255)"/>
<ellipse cx="15.8" cy="44.5" rx="0.7" ry="3" fill="rgb(173,173,173)"/>
<ellipse cx="20.5" cy="43.5" rx="1.3" ry="1.2" fill="rgb(173,173,173)"/>
<ellipse cx="19.2" cy="47" rx="0.6" ry="2" fill="rgb(173,173,173)"/>
<line x1="4" y1="57.5" x2="10.5" y2="58.5" stroke="rgb(255,255,255)" stroke-width="2.2" stroke-linecap="round"/>
<line x1="16.3" y1="59" x2="16.3" y2="71" stroke="rgb(255,255,255)" stroke-width="2.2" stroke-linecap="round"/>
<line x1="24.8" y1="61" x2="26.5" y2="66" stroke="rgb(255,255,255)" stroke-width="2.3" stroke-linecap="round"/>
</g></g>
<text transform="translate(35.3,291.5) rotate(-90) scale(1.0,1)" font-size="8.2" text-anchor="middle" fill="#000" stroke="#000" stroke-width="0.22">BM+Tcon+</text>
<text transform="translate(45.7,292.4) rotate(-90) scale(1.0,1)" font-size="8.2" text-anchor="middle" fill="#000" stroke="#000" stroke-width="0.22">Isotype ctrl</text>
<text transform="translate(26.2,363.7) rotate(-90) scale(1.0,1)" font-size="8.2" text-anchor="middle" fill="#000" stroke="#000" stroke-width="0.22">BM+Tcon+</text>
<text transform="translate(36.0,364.3) rotate(-90) scale(1.0,1)" font-size="8.2" text-anchor="middle" fill="#000" stroke="#000" stroke-width="0.22">Anti-TIM-1 mAb</text>
<text transform="translate(45.8,364.9) rotate(-90) scale(1.0,1)" font-size="8.2" text-anchor="middle" fill="#000" stroke="#000" stroke-width="0.22">(3D10)</text>
<rect x="236.5" y="278.2" width="5" height="122" fill="url(#cbar)" stroke="#000" stroke-width="1"/>
<line x1="241.5" y1="278.6" x2="243.3" y2="278.6" stroke="#000" stroke-width="0.7"/>
<line x1="241.5" y1="282.1" x2="243.3" y2="282.1" stroke="#000" stroke-width="0.7"/>
<line x1="241.5" y1="285.6" x2="243.3" y2="285.6" stroke="#000" stroke-width="0.7"/>
<line x1="241.5" y1="289.1" x2="243.3" y2="289.1" stroke="#000" stroke-width="0.7"/>
<line x1="241.5" y1="292.6" x2="243.3" y2="292.6" stroke="#000" stroke-width="0.7"/>
<line x1="241.5" y1="296.1" x2="243.3" y2="296.1" stroke="#000" stroke-width="0.7"/>
<line x1="241.5" y1="299.6" x2="243.3" y2="299.6" stroke="#000" stroke-width="0.7"/>
<line x1="241.5" y1="303.1" x2="243.3" y2="303.1" stroke="#000" stroke-width="0.7"/>
<line x1="241.5" y1="306.6" x2="243.3" y2="306.6" stroke="#000" stroke-width="0.7"/>
<line x1="241.5" y1="310.1" x2="243.3" y2="310.1" stroke="#000" stroke-width="0.7"/>
<line x1="241.5" y1="313.6" x2="243.3" y2="313.6" stroke="#000" stroke-width="0.7"/>
<line x1="241.5" y1="317.1" x2="243.3" y2="317.1" stroke="#000" stroke-width="0.7"/>
<line x1="241.5" y1="320.6" x2="243.3" y2="320.6" stroke="#000" stroke-width="0.7"/>
<line x1="241.5" y1="324.1" x2="243.3" y2="324.1" stroke="#000" stroke-width="0.7"/>
<line x1="241.5" y1="327.6" x2="243.3" y2="327.6" stroke="#000" stroke-width="0.7"/>
<line x1="241.5" y1="331.1" x2="243.3" y2="331.1" stroke="#000" stroke-width="0.7"/>
<line x1="241.5" y1="334.6" x2="243.3" y2="334.6" stroke="#000" stroke-width="0.7"/>
<line x1="241.5" y1="338.1" x2="243.3" y2="338.1" stroke="#000" stroke-width="0.7"/>
<line x1="241.5" y1="341.6" x2="243.3" y2="341.6" stroke="#000" stroke-width="0.7"/>
<line x1="241.5" y1="345.1" x2="243.3" y2="345.1" stroke="#000" stroke-width="0.7"/>
<line x1="241.5" y1="348.6" x2="243.3" y2="348.6" stroke="#000" stroke-width="0.7"/>
<line x1="241.5" y1="352.1" x2="243.3" y2="352.1" stroke="#000" stroke-width="0.7"/>
<line x1="241.5" y1="355.6" x2="243.3" y2="355.6" stroke="#000" stroke-width="0.7"/>
<line x1="241.5" y1="359.1" x2="243.3" y2="359.1" stroke="#000" stroke-width="0.7"/>
<line x1="241.5" y1="362.6" x2="243.3" y2="362.6" stroke="#000" stroke-width="0.7"/>
<line x1="241.5" y1="366.1" x2="243.3" y2="366.1" stroke="#000" stroke-width="0.7"/>
<line x1="241.5" y1="369.6" x2="243.3" y2="369.6" stroke="#000" stroke-width="0.7"/>
<line x1="241.5" y1="373.1" x2="243.3" y2="373.1" stroke="#000" stroke-width="0.7"/>
<line x1="241.5" y1="376.6" x2="243.3" y2="376.6" stroke="#000" stroke-width="0.7"/>
<line x1="241.5" y1="380.1" x2="243.3" y2="380.1" stroke="#000" stroke-width="0.7"/>
<line x1="241.5" y1="383.6" x2="243.3" y2="383.6" stroke="#000" stroke-width="0.7"/>
<line x1="241.5" y1="387.1" x2="243.3" y2="387.1" stroke="#000" stroke-width="0.7"/>
<line x1="241.5" y1="390.6" x2="243.3" y2="390.6" stroke="#000" stroke-width="0.7"/>
<line x1="241.5" y1="394.1" x2="243.3" y2="394.1" stroke="#000" stroke-width="0.7"/>
<line x1="241.5" y1="397.6" x2="243.3" y2="397.6" stroke="#000" stroke-width="0.7"/>
<line x1="241.5" y1="286.8" x2="245" y2="286.8" stroke="#000" stroke-width="0.9"/>
<text x="247.6" y="289.7" font-size="8.2" text-anchor="start" fill="#000" stroke="#000" stroke-width="0.22" >1.4</text>
<line x1="241.5" y1="304.35" x2="245" y2="304.35" stroke="#000" stroke-width="0.9"/>
<text x="247.6" y="307.25" font-size="8.2" text-anchor="start" fill="#000" stroke="#000" stroke-width="0.22" >1.2</text>
<line x1="241.5" y1="321.90000000000003" x2="245" y2="321.90000000000003" stroke="#000" stroke-width="0.9"/>
<text x="247.6" y="324.8" font-size="8.2" text-anchor="start" fill="#000" stroke="#000" stroke-width="0.22" >1.0</text>
<line x1="241.5" y1="339.45000000000005" x2="245" y2="339.45000000000005" stroke="#000" stroke-width="0.9"/>
<text x="247.6" y="342.35" font-size="8.2" text-anchor="start" fill="#000" stroke="#000" stroke-width="0.22" >0.8</text>
<line x1="241.5" y1="357.0" x2="245" y2="357.0" stroke="#000" stroke-width="0.9"/>
<text x="247.6" y="359.9" font-size="8.2" text-anchor="start" fill="#000" stroke="#000" stroke-width="0.22" >0.6</text>
<line x1="241.5" y1="374.55" x2="245" y2="374.55" stroke="#000" stroke-width="0.9"/>
<text x="247.6" y="377.45" font-size="8.2" text-anchor="start" fill="#000" stroke="#000" stroke-width="0.22" >0.4</text>
<line x1="241.5" y1="392.1" x2="245" y2="392.1" stroke="#000" stroke-width="0.9"/>
<text x="247.6" y="395.0" font-size="8.2" text-anchor="start" fill="#000" stroke="#000" stroke-width="0.22" >0.2</text>
<text x="237.5" y="260.6" font-size="8" text-anchor="start" fill="#000" stroke="#000" stroke-width="0.22" >Radiance</text>
<text x="236.8" y="273" font-size="7.9" text-anchor="start" fill="#000" stroke="#000" stroke-width="0.22" >p&#183;s<tspan font-size="4.8" dy="-2.64">-1</tspan><tspan dy="2.64">c</tspan><tspan font-size="4.8" dy="-2.64">-2</tspan><tspan dy="2.64">sr</tspan><tspan font-size="4.8" dy="-2.64">-1</tspan></text>
<text transform="translate(271.3,339.4) rotate(-90) scale(0.79,1)" font-size="9.7" text-anchor="middle" fill="#000" stroke="#000" stroke-width="0.22">x10<tspan font-size="6" dy="-3.30">8</tspan></text>
<text x="289.2" y="227.2" font-size="12" text-anchor="start" fill="#000" stroke="#000" stroke-width="0.22" font-weight="bold">D</text>
<line x1="355.2" y1="241.5" x2="355.2" y2="345.7" stroke="#000" stroke-width="1.3"/>
<line x1="355.2" y1="345.2" x2="510.6" y2="345.2" stroke="#000" stroke-width="1.4"/>
<line x1="352.2" y1="345.0" x2="355.2" y2="345.0" stroke="#000" stroke-width="1"/>
<text x="349.3" y="347.9" font-size="8.2" text-anchor="end" fill="#000" stroke="#000" stroke-width="0.22" >0.0</text>
<line x1="352.2" y1="324.7" x2="355.2" y2="324.7" stroke="#000" stroke-width="1"/>
<text x="343.6" y="328.50" font-size="8.2" text-anchor="end" stroke="#000" stroke-width="0.22">5.0&#215;10</text>
<text x="344.2" y="325.0" font-size="6.8" text-anchor="start" fill="#000" stroke="#000" stroke-width="0.22" >6</text>
<line x1="352.2" y1="304.4" x2="355.2" y2="304.4" stroke="#000" stroke-width="1"/>
<text x="343.6" y="308.20" font-size="8.2" text-anchor="end" stroke="#000" stroke-width="0.22">1.0&#215;10</text>
<text x="344.2" y="304.7" font-size="6.8" text-anchor="start" fill="#000" stroke="#000" stroke-width="0.22" >7</text>
<line x1="352.2" y1="284.1" x2="355.2" y2="284.1" stroke="#000" stroke-width="1"/>
<text x="343.6" y="287.90" font-size="8.2" text-anchor="end" stroke="#000" stroke-width="0.22">1.5&#215;10</text>
<text x="344.2" y="284.40000000000003" font-size="6.8" text-anchor="start" fill="#000" stroke="#000" stroke-width="0.22" >7</text>
<line x1="352.2" y1="263.8" x2="355.2" y2="263.8" stroke="#000" stroke-width="1"/>
<text x="343.6" y="267.60" font-size="8.2" text-anchor="end" stroke="#000" stroke-width="0.22">2.0&#215;10</text>
<text x="344.2" y="264.1" font-size="6.8" text-anchor="start" fill="#000" stroke="#000" stroke-width="0.22" >7</text>
<line x1="352.2" y1="243.5" x2="355.2" y2="243.5" stroke="#000" stroke-width="1"/>
<text x="343.6" y="247.30" font-size="8.2" text-anchor="end" stroke="#000" stroke-width="0.22">2.5&#215;10</text>
<text x="344.2" y="243.8" font-size="6.8" text-anchor="start" fill="#000" stroke="#000" stroke-width="0.22" >7</text>
<line x1="355.2" y1="345.0" x2="355.2" y2="348.0" stroke="#000" stroke-width="1"/>
<text x="355.2" y="358.6" font-size="8.2" text-anchor="middle" fill="#000" stroke="#000" stroke-width="0.22" >0</text>
<line x1="385.7" y1="345.0" x2="385.7" y2="348.0" stroke="#000" stroke-width="1"/>
<text x="385.7" y="358.6" font-size="8.2" text-anchor="middle" fill="#000" stroke="#000" stroke-width="0.22" >5</text>
<line x1="416.2" y1="345.0" x2="416.2" y2="348.0" stroke="#000" stroke-width="1"/>
<text x="416.2" y="358.6" font-size="8.2" text-anchor="middle" fill="#000" stroke="#000" stroke-width="0.22" >10</text>
<line x1="446.7" y1="345.0" x2="446.7" y2="348.0" stroke="#000" stroke-width="1"/>
<text x="446.7" y="358.6" font-size="8.2" text-anchor="middle" fill="#000" stroke="#000" stroke-width="0.22" >15</text>
<line x1="477.2" y1="345.0" x2="477.2" y2="348.0" stroke="#000" stroke-width="1"/>
<text x="477.2" y="358.6" font-size="8.2" text-anchor="middle" fill="#000" stroke="#000" stroke-width="0.22" >20</text>
<line x1="507.7" y1="345.0" x2="507.7" y2="348.0" stroke="#000" stroke-width="1"/>
<text x="507.7" y="358.6" font-size="8.2" text-anchor="middle" fill="#000" stroke="#000" stroke-width="0.22" >25</text>
<text transform="translate(432.8,371.9) scale(0.76,1)" font-size="9" text-anchor="middle" stroke="#000" stroke-width="0.22">Days after transplantation</text>
<text transform="translate(312.2,292.5) rotate(-90) scale(0.76,1)" font-size="9.3" text-anchor="middle" fill="#000" stroke="#000" stroke-width="0.3">BLI signal (p s <tspan font-size="6" dy="-3.30">-1</tspan><tspan dy="3.3"> mouse </tspan><tspan font-size="6" dy="-3.30">-1</tspan><tspan dy="3.3">)</tspan></text>
<line x1="397.9" y1="270.296" x2="397.9" y2="284.1" stroke="#5aad3a" stroke-width="0.9"/>
<line x1="395.2" y1="270.296" x2="400.59999999999997" y2="270.296" stroke="#5aad3a" stroke-width="0.9"/>
<line x1="395.2" y1="284.1" x2="400.59999999999997" y2="284.1" stroke="#5aad3a" stroke-width="0.9"/>
<line x1="440.59999999999997" y1="269.89" x2="440.59999999999997" y2="290.19" stroke="#5aad3a" stroke-width="0.9"/>
<line x1="437.9" y1="269.89" x2="443.29999999999995" y2="269.89" stroke="#5aad3a" stroke-width="0.9"/>
<line x1="437.9" y1="290.19" x2="443.29999999999995" y2="290.19" stroke="#5aad3a" stroke-width="0.9"/>
<line x1="495.5" y1="279.634" x2="495.5" y2="313.738" stroke="#5aad3a" stroke-width="0.9"/>
<line x1="492.8" y1="279.634" x2="498.2" y2="279.634" stroke="#5aad3a" stroke-width="0.9"/>
<line x1="492.8" y1="313.738" x2="498.2" y2="313.738" stroke="#5aad3a" stroke-width="0.9"/>
<line x1="397.9" y1="249.387" x2="397.9" y2="272.529" stroke="#1e3c86" stroke-width="0.9"/>
<line x1="395.2" y1="249.387" x2="400.59999999999997" y2="249.387" stroke="#1e3c86" stroke-width="0.9"/>
<line x1="395.2" y1="272.529" x2="400.59999999999997" y2="272.529" stroke="#1e3c86" stroke-width="0.9"/>
<line x1="440.59999999999997" y1="265.01800000000003" x2="440.59999999999997" y2="285.318" stroke="#1e3c86" stroke-width="0.9"/>
<line x1="437.9" y1="265.01800000000003" x2="443.29999999999995" y2="265.01800000000003" stroke="#1e3c86" stroke-width="0.9"/>
<line x1="437.9" y1="285.318" x2="443.29999999999995" y2="285.318" stroke="#1e3c86" stroke-width="0.9"/>
<line x1="495.5" y1="271.4328" x2="495.5" y2="300.8272" stroke="#1e3c86" stroke-width="0.9"/>
<line x1="492.8" y1="271.4328" x2="498.2" y2="271.4328" stroke="#1e3c86" stroke-width="0.9"/>
<line x1="492.8" y1="300.8272" x2="498.2" y2="300.8272" stroke="#1e3c86" stroke-width="0.9"/>
<polyline points="355.20,345.00 373.50,343.38 385.70,327.54 397.90,277.20 440.60,280.04 495.50,296.69" fill="none" stroke="#5aad3a" stroke-width="1.1"/>
<polyline points="355.20,345.00 373.50,344.19 385.70,330.38 397.90,260.96 440.60,275.17 495.50,286.13" fill="none" stroke="#1e3c86" stroke-width="1.1"/>
<circle cx="355.2" cy="345.0" r="2.3" fill="#5aad3a"/>
<circle cx="373.5" cy="343.376" r="2.3" fill="#5aad3a"/>
<circle cx="385.7" cy="327.54200000000003" r="2.3" fill="#5aad3a"/>
<circle cx="397.9" cy="277.198" r="2.3" fill="#5aad3a"/>
<circle cx="440.59999999999997" cy="280.04" r="2.3" fill="#5aad3a"/>
<circle cx="495.5" cy="296.686" r="2.3" fill="#5aad3a"/>
<polygon points="352.60,343.00 357.80,343.00 355.20,347.40" fill="#1e3c86"/>
<polygon points="370.90,342.19 376.10,342.19 373.50,346.59" fill="#1e3c86"/>
<polygon points="383.10,328.38 388.30,328.38 385.70,332.78" fill="#1e3c86"/>
<polygon points="395.30,258.96 400.50,258.96 397.90,263.36" fill="#1e3c86"/>
<polygon points="438.00,273.17 443.20,273.17 440.60,277.57" fill="#1e3c86"/>
<polygon points="492.90,284.13 498.10,284.13 495.50,288.53" fill="#1e3c86"/>
<line x1="355.2" y1="344.9" x2="495.5" y2="344.9" stroke="#961a40" stroke-width="1.5"/>
<rect x="352.50" y="342.00" width="5.4" height="5.4" fill="none" stroke="#c8204a" stroke-width="1.15"/>
<rect x="370.80" y="342.00" width="5.4" height="5.4" fill="none" stroke="#c8204a" stroke-width="1.15"/>
<rect x="383.00" y="342.00" width="5.4" height="5.4" fill="none" stroke="#c8204a" stroke-width="1.15"/>
<rect x="395.20" y="342.00" width="5.4" height="5.4" fill="none" stroke="#c8204a" stroke-width="1.15"/>
<rect x="437.90" y="342.00" width="5.4" height="5.4" fill="none" stroke="#c8204a" stroke-width="1.15"/>
<rect x="492.80" y="342.00" width="5.4" height="5.4" fill="none" stroke="#c8204a" stroke-width="1.15"/>
<polyline points="502.2,285.2 504.6,285.2 504.6,302.8 502.2,302.8" fill="none" stroke="#111" stroke-width="1"/>
<text x="507.4" y="319.2" font-size="8.8" text-anchor="middle" fill="#000" stroke="#000" stroke-width="0.22" >ns</text>
<line x1="354.8" y1="383.3" x2="365.2" y2="383.3" stroke="#c8204a" stroke-width="1"/>
<rect x="357.6" y="381.0" width="4.6" height="4.6" fill="#fff" stroke="#c8204a" stroke-width="0.9"/>
<line x1="354.8" y1="395.6" x2="365.2" y2="395.6" stroke="#1e3c86" stroke-width="1"/>
<polygon points="357.4,393.6 362.6,393.6 360,398.0" fill="#1e3c86"/>
<line x1="354.8" y1="407.9" x2="365.2" y2="407.9" stroke="#5aad3a" stroke-width="1"/>
<circle cx="360" cy="407.9" r="2.3" fill="#5aad3a"/>
<text x="368.6" y="386.3" font-size="8.2" text-anchor="start" fill="#000" stroke="#000" stroke-width="0.22" >BM</text>
<text x="368.6" y="398.6" font-size="8.2" text-anchor="start" fill="#000" stroke="#000" stroke-width="0.22" >BM+Tcon+isotype ctrl</text>
<text x="368.6" y="410.9" font-size="8.2" text-anchor="start" fill="#000" stroke="#000" stroke-width="0.22" >BM+Tcon+anti-TIM-1 mAb (3D10)</text>
<text x="8" y="433.8" font-size="12" text-anchor="start" fill="#000" stroke="#000" stroke-width="0.22" font-weight="bold">E</text>
<rect x="69.35" y="448.947" width="32.5" height="60.053" fill="#a00029" />
<line x1="85.6" y1="446.89549999999997" x2="85.6" y2="448.947" stroke="#111" stroke-width="1.1"/>
<line x1="77.8" y1="446.89549999999997" x2="93.39999999999999" y2="446.89549999999997" stroke="#111" stroke-width="1.1"/>
<rect x="117.35" y="471.8865" width="32.5" height="37.11349999999999" fill="#2b4a80" />
<line x1="117.35" y1="472.3865" x2="149.85" y2="472.3865" stroke="#1d3768" stroke-width="1"/>
<line x1="133.6" y1="467.96999999999997" x2="133.6" y2="471.8865" stroke="#111" stroke-width="1.1"/>
<line x1="125.8" y1="467.96999999999997" x2="141.4" y2="467.96999999999997" stroke="#111" stroke-width="1.1"/>
<line x1="53.6" y1="432.09999999999997" x2="53.6" y2="509.9" stroke="#000" stroke-width="1.4"/>
<line x1="53.5" y1="509.2" x2="165.5" y2="509.2" stroke="#000" stroke-width="1.4"/>
<line x1="50.3" y1="509.0" x2="53.5" y2="509.0" stroke="#000" stroke-width="1"/>
<text x="47.3" y="511.9" font-size="8.3" text-anchor="end" fill="#000" stroke="#000" stroke-width="0.22" >0</text>
<line x1="50.3" y1="490.35" x2="53.5" y2="490.35" stroke="#000" stroke-width="1"/>
<text x="47.3" y="493.25" font-size="8.3" text-anchor="end" fill="#000" stroke="#000" stroke-width="0.22" >100</text>
<line x1="50.3" y1="471.7" x2="53.5" y2="471.7" stroke="#000" stroke-width="1"/>
<text x="47.3" y="474.59999999999997" font-size="8.3" text-anchor="end" fill="#000" stroke="#000" stroke-width="0.22" >200</text>
<line x1="50.3" y1="453.04999999999995" x2="53.5" y2="453.04999999999995" stroke="#000" stroke-width="1"/>
<text x="47.3" y="455.94999999999993" font-size="8.3" text-anchor="end" fill="#000" stroke="#000" stroke-width="0.22" >300</text>
<line x1="50.3" y1="434.4" x2="53.5" y2="434.4" stroke="#000" stroke-width="1"/>
<text x="47.3" y="437.29999999999995" font-size="8.3" text-anchor="end" fill="#000" stroke="#000" stroke-width="0.22" >400</text>
<line x1="85.6" y1="509.0" x2="85.6" y2="512.0" stroke="#000" stroke-width="1"/>
<line x1="133.6" y1="509.0" x2="133.6" y2="512.0" stroke="#000" stroke-width="1"/>
<text transform="translate(27.0,470.5) rotate(-90) scale(0.785,1)" font-size="9.4" text-anchor="middle" fill="#000" stroke="#000" stroke-width="0.3">TNF-&#945; (pg/ml)</text>
<polyline points="85.6,437.8 85.6,429.25 133.6,429.25 133.6,437.8" fill="none" stroke="#111" stroke-width="1"/>
<circle cx="106.5" cy="426.0" r="1.05" fill="#1a1a1a"/>
<circle cx="109.6" cy="426.0" r="1.05" fill="#1a1a1a"/>
<circle cx="112.69999999999999" cy="426.0" r="1.05" fill="#1a1a1a"/>
<rect x="235.85" y="445.59" width="32.5" height="63.410000000000025" fill="#a00029" />
<line x1="252.1" y1="443.9115" x2="252.1" y2="445.59" stroke="#111" stroke-width="1.1"/>
<line x1="244.29999999999998" y1="443.9115" x2="259.9" y2="443.9115" stroke="#111" stroke-width="1.1"/>
<rect x="283.85" y="485.3145" width="32.5" height="23.68549999999999" fill="#2b4a80" />
<line x1="283.85" y1="485.8145" x2="316.35" y2="485.8145" stroke="#1d3768" stroke-width="1"/>
<line x1="300.1" y1="481.771" x2="300.1" y2="485.3145" stroke="#111" stroke-width="1.1"/>
<line x1="292.3" y1="481.771" x2="307.90000000000003" y2="481.771" stroke="#111" stroke-width="1.1"/>
<line x1="220.1" y1="432.09999999999997" x2="220.1" y2="509.9" stroke="#000" stroke-width="1.4"/>
<line x1="220.0" y1="509.2" x2="331.5" y2="509.2" stroke="#000" stroke-width="1.4"/>
<line x1="216.8" y1="509.0" x2="220.0" y2="509.0" stroke="#000" stroke-width="1"/>
<text x="213.8" y="511.9" font-size="8.3" text-anchor="end" fill="#000" stroke="#000" stroke-width="0.22" >0</text>
<line x1="216.8" y1="490.35" x2="220.0" y2="490.35" stroke="#000" stroke-width="1"/>
<text x="213.8" y="493.25" font-size="8.3" text-anchor="end" fill="#000" stroke="#000" stroke-width="0.22" >10000</text>
<line x1="216.8" y1="471.7" x2="220.0" y2="471.7" stroke="#000" stroke-width="1"/>
<text x="213.8" y="474.59999999999997" font-size="8.3" text-anchor="end" fill="#000" stroke="#000" stroke-width="0.22" >20000</text>
<line x1="216.8" y1="453.04999999999995" x2="220.0" y2="453.04999999999995" stroke="#000" stroke-width="1"/>
<text x="213.8" y="455.94999999999993" font-size="8.3" text-anchor="end" fill="#000" stroke="#000" stroke-width="0.22" >30000</text>
<line x1="216.8" y1="434.4" x2="220.0" y2="434.4" stroke="#000" stroke-width="1"/>
<text x="213.8" y="437.29999999999995" font-size="8.3" text-anchor="end" fill="#000" stroke="#000" stroke-width="0.22" >40000</text>
<line x1="252.1" y1="509.0" x2="252.1" y2="512.0" stroke="#000" stroke-width="1"/>
<line x1="300.1" y1="509.0" x2="300.1" y2="512.0" stroke="#000" stroke-width="1"/>
<text transform="translate(182.6,470.4) rotate(-90) scale(0.785,1)" font-size="9.4" text-anchor="middle" fill="#000" stroke="#000" stroke-width="0.3">IFN-&#947; (pg/ml)</text>
<polyline points="252.1,437.8 252.1,429.0 300.1,429.0 300.1,437.8" fill="none" stroke="#111" stroke-width="1"/>
<circle cx="274.55" cy="424.3" r="1.05" fill="#1a1a1a"/>
<circle cx="277.65000000000003" cy="424.3" r="1.05" fill="#1a1a1a"/>
<rect x="402.05" y="451.8066666666667" width="32.5" height="57.19333333333333" fill="#a00029" />
<line x1="418.3" y1="447.828" x2="418.3" y2="451.8066666666667" stroke="#111" stroke-width="1.1"/>
<line x1="410.5" y1="447.828" x2="426.1" y2="447.828" stroke="#111" stroke-width="1.1"/>
<rect x="450.04999999999995" y="470.20799999999997" width="32.5" height="38.79200000000003" fill="#2b4a80" />
<line x1="450.04999999999995" y1="470.70799999999997" x2="482.54999999999995" y2="470.70799999999997" stroke="#1d3768" stroke-width="1"/>
<line x1="466.29999999999995" y1="468.46733333333333" x2="466.29999999999995" y2="470.20799999999997" stroke="#111" stroke-width="1.1"/>
<line x1="458.49999999999994" y1="468.46733333333333" x2="474.09999999999997" y2="468.46733333333333" stroke="#111" stroke-width="1.1"/>
<line x1="386.3" y1="432.09999999999997" x2="386.3" y2="509.9" stroke="#000" stroke-width="1.4"/>
<line x1="386.2" y1="509.2" x2="497.5" y2="509.2" stroke="#000" stroke-width="1.4"/>
<line x1="383.0" y1="509.0" x2="386.2" y2="509.0" stroke="#000" stroke-width="1"/>
<text x="380.0" y="511.9" font-size="8.3" text-anchor="end" fill="#000" stroke="#000" stroke-width="0.22" >0</text>
<line x1="383.0" y1="484.1333333333333" x2="386.2" y2="484.1333333333333" stroke="#000" stroke-width="1"/>
<text x="380.0" y="487.0333333333333" font-size="8.3" text-anchor="end" fill="#000" stroke="#000" stroke-width="0.22" >5000</text>
<line x1="383.0" y1="459.26666666666665" x2="386.2" y2="459.26666666666665" stroke="#000" stroke-width="1"/>
<text x="380.0" y="462.16666666666663" font-size="8.3" text-anchor="end" fill="#000" stroke="#000" stroke-width="0.22" >10000</text>
<line x1="383.0" y1="434.4" x2="386.2" y2="434.4" stroke="#000" stroke-width="1"/>
<text x="380.0" y="437.29999999999995" font-size="8.3" text-anchor="end" fill="#000" stroke="#000" stroke-width="0.22" >15000</text>
<line x1="418.3" y1="509.0" x2="418.3" y2="512.0" stroke="#000" stroke-width="1"/>
<line x1="466.29999999999995" y1="509.0" x2="466.29999999999995" y2="512.0" stroke="#000" stroke-width="1"/>
<text transform="translate(348.8,471.0) rotate(-90) scale(0.785,1)" font-size="9.4" text-anchor="middle" fill="#000" stroke="#000" stroke-width="0.3">MCP-1 (pg/ml)</text>
<polyline points="418.3,439.8 418.3,431.1 466.29999999999995,431.1 466.29999999999995,439.8" fill="none" stroke="#111" stroke-width="1"/>
<circle cx="442.29999999999995" cy="427.8" r="1.05" fill="#1a1a1a"/>
<rect x="69.35" y="551.972" width="32.5" height="64.72800000000007" fill="#a00029" />
<line x1="85.6" y1="549.74" x2="85.6" y2="551.972" stroke="#111" stroke-width="1.1"/>
<line x1="77.8" y1="549.74" x2="93.39999999999999" y2="549.74" stroke="#111" stroke-width="1.1"/>
<rect x="117.35" y="566.852" width="32.5" height="49.84800000000007" fill="#2b4a80" />
<line x1="117.35" y1="567.352" x2="149.85" y2="567.352" stroke="#1d3768" stroke-width="1"/>
<line x1="133.6" y1="564.062" x2="133.6" y2="566.852" stroke="#111" stroke-width="1.1"/>
<line x1="125.8" y1="564.062" x2="141.4" y2="564.062" stroke="#111" stroke-width="1.1"/>
<line x1="53.6" y1="540.0" x2="53.6" y2="617.6" stroke="#000" stroke-width="1.4"/>
<line x1="53.5" y1="616.9000000000001" x2="165.5" y2="616.9000000000001" stroke="#000" stroke-width="1.4"/>
<line x1="50.3" y1="616.7" x2="53.5" y2="616.7" stroke="#000" stroke-width="1"/>
<text x="47.3" y="619.6" font-size="8.3" text-anchor="end" fill="#000" stroke="#000" stroke-width="0.22" >0</text>
<line x1="50.3" y1="598.1" x2="53.5" y2="598.1" stroke="#000" stroke-width="1"/>
<text x="47.3" y="601.0" font-size="8.3" text-anchor="end" fill="#000" stroke="#000" stroke-width="0.22" >100</text>
<line x1="50.3" y1="579.5" x2="53.5" y2="579.5" stroke="#000" stroke-width="1"/>
<text x="47.3" y="582.4" font-size="8.3" text-anchor="end" fill="#000" stroke="#000" stroke-width="0.22" >200</text>
<line x1="50.3" y1="560.9" x2="53.5" y2="560.9" stroke="#000" stroke-width="1"/>
<text x="47.3" y="563.8" font-size="8.3" text-anchor="end" fill="#000" stroke="#000" stroke-width="0.22" >300</text>
<line x1="50.3" y1="542.3" x2="53.5" y2="542.3" stroke="#000" stroke-width="1"/>
<text x="47.3" y="545.1999999999999" font-size="8.3" text-anchor="end" fill="#000" stroke="#000" stroke-width="0.22" >400</text>
<line x1="85.6" y1="616.7" x2="85.6" y2="619.7" stroke="#000" stroke-width="1"/>
<line x1="133.6" y1="616.7" x2="133.6" y2="619.7" stroke="#000" stroke-width="1"/>
<text transform="translate(27.0,578.9) rotate(-90) scale(0.785,1)" font-size="9.4" text-anchor="middle" fill="#000" stroke="#000" stroke-width="0.3">IL-1&#946; (pg/ml)</text>
<polyline points="85.6,543.6 85.6,535.3 133.6,535.3 133.6,543.6" fill="none" stroke="#111" stroke-width="1"/>
<circle cx="108.05" cy="530.5" r="1.05" fill="#1a1a1a"/>
<circle cx="111.14999999999999" cy="530.5" r="1.05" fill="#1a1a1a"/>
<rect x="225.65" y="560.6519999999999" width="32.5" height="56.048000000000116" fill="#a00029" />
<line x1="241.9" y1="556.4359999999999" x2="241.9" y2="560.6519999999999" stroke="#111" stroke-width="1.1"/>
<line x1="234.1" y1="556.4359999999999" x2="249.70000000000002" y2="556.4359999999999" stroke="#111" stroke-width="1.1"/>
<rect x="273.65" y="570.8199999999999" width="32.5" height="45.88000000000011" fill="#2b4a80" />
<line x1="273.65" y1="571.3199999999999" x2="306.15" y2="571.3199999999999" stroke="#1d3768" stroke-width="1"/>
<line x1="289.9" y1="568.34" x2="289.9" y2="570.8199999999999" stroke="#111" stroke-width="1.1"/>
<line x1="282.09999999999997" y1="568.34" x2="297.7" y2="568.34" stroke="#111" stroke-width="1.1"/>
<line x1="209.9" y1="540.0" x2="209.9" y2="617.6" stroke="#000" stroke-width="1.4"/>
<line x1="209.8" y1="616.9000000000001" x2="325.0" y2="616.9000000000001" stroke="#000" stroke-width="1.4"/>
<line x1="206.60000000000002" y1="616.7" x2="209.8" y2="616.7" stroke="#000" stroke-width="1"/>
<text x="203.60000000000002" y="619.6" font-size="8.3" text-anchor="end" fill="#000" stroke="#000" stroke-width="0.22" >0</text>
<line x1="206.60000000000002" y1="591.9" x2="209.8" y2="591.9" stroke="#000" stroke-width="1"/>
<text x="203.60000000000002" y="594.8" font-size="8.3" text-anchor="end" fill="#000" stroke="#000" stroke-width="0.22" >100</text>
<line x1="206.60000000000002" y1="567.1" x2="209.8" y2="567.1" stroke="#000" stroke-width="1"/>
<text x="203.60000000000002" y="570.0" font-size="8.3" text-anchor="end" fill="#000" stroke="#000" stroke-width="0.22" >200</text>
<line x1="206.60000000000002" y1="542.3" x2="209.8" y2="542.3" stroke="#000" stroke-width="1"/>
<text x="203.60000000000002" y="545.1999999999999" font-size="8.3" text-anchor="end" fill="#000" stroke="#000" stroke-width="0.22" >300</text>
<line x1="241.9" y1="616.7" x2="241.9" y2="619.7" stroke="#000" stroke-width="1"/>
<line x1="289.9" y1="616.7" x2="289.9" y2="619.7" stroke="#000" stroke-width="1"/>
<text transform="translate(182.6,578.4) rotate(-90) scale(0.785,1)" font-size="9.4" text-anchor="middle" fill="#000" stroke="#000" stroke-width="0.3">mIP-10 (pg/ml)</text>
<polyline points="241.9,543.7 241.9,535.0 289.9,535.0 289.9,543.7" fill="none" stroke="#111" stroke-width="1"/>
<text x="265.9" y="530.2" font-size="7.8" text-anchor="middle" fill="#222" stroke="#222" stroke-width="0.22" >ns</text>
<rect x="386.25" y="563.132" width="32.5" height="53.5680000000001" fill="#a00029" />
<line x1="402.5" y1="559.908" x2="402.5" y2="563.132" stroke="#111" stroke-width="1.1"/>
<line x1="394.7" y1="559.908" x2="410.3" y2="559.908" stroke="#111" stroke-width="1.1"/>
<rect x="434.25" y="567.1" width="32.5" height="49.60000000000002" fill="#2b4a80" />
<line x1="434.25" y1="567.6" x2="466.75" y2="567.6" stroke="#1d3768" stroke-width="1"/>
<line x1="450.5" y1="558.668" x2="450.5" y2="567.1" stroke="#111" stroke-width="1.1"/>
<line x1="442.7" y1="558.668" x2="458.3" y2="558.668" stroke="#111" stroke-width="1.1"/>
<line x1="370.5" y1="540.0" x2="370.5" y2="617.6" stroke="#000" stroke-width="1.4"/>
<line x1="370.4" y1="616.9000000000001" x2="484.0" y2="616.9000000000001" stroke="#000" stroke-width="1.4"/>
<line x1="367.2" y1="616.7" x2="370.4" y2="616.7" stroke="#000" stroke-width="1"/>
<text x="364.2" y="619.6" font-size="8.3" text-anchor="end" fill="#000" stroke="#000" stroke-width="0.22" >0</text>
<line x1="367.2" y1="591.9" x2="370.4" y2="591.9" stroke="#000" stroke-width="1"/>
<text x="364.2" y="594.8" font-size="8.3" text-anchor="end" fill="#000" stroke="#000" stroke-width="0.22" >500</text>
<line x1="367.2" y1="567.1" x2="370.4" y2="567.1" stroke="#000" stroke-width="1"/>
<text x="364.2" y="570.0" font-size="8.3" text-anchor="end" fill="#000" stroke="#000" stroke-width="0.22" >1000</text>
<line x1="367.2" y1="542.3" x2="370.4" y2="542.3" stroke="#000" stroke-width="1"/>
<text x="364.2" y="545.1999999999999" font-size="8.3" text-anchor="end" fill="#000" stroke="#000" stroke-width="0.22" >1500</text>
<line x1="402.5" y1="616.7" x2="402.5" y2="619.7" stroke="#000" stroke-width="1"/>
<line x1="450.5" y1="616.7" x2="450.5" y2="619.7" stroke="#000" stroke-width="1"/>
<text transform="translate(337.8,578.4) rotate(-90) scale(0.785,1)" font-size="9.4" text-anchor="middle" fill="#000" stroke="#000" stroke-width="0.3">IL-6 (pg/ml)</text>
<rect x="54.2" y="626.8" width="7.9" height="4.2" fill="#a00029" />
<rect x="54.2" y="638.9" width="7.9" height="4.1" fill="#2b4a80" />
<text x="65.4" y="631.7" font-size="8.1" text-anchor="start" fill="#000" stroke="#000" stroke-width="0.22" >isotype ctrl</text>
<text x="65.4" y="643.4" font-size="8.1" text-anchor="start" fill="#000" stroke="#000" stroke-width="0.22" >anti-TIM-1 mAb (3D10)</text>
<rect x="210.3" y="626.8" width="7.9" height="4.2" fill="#a00029" />
<rect x="210.3" y="638.9" width="7.9" height="4.1" fill="#2b4a80" />
<text x="221.4" y="631.7" font-size="8.1" text-anchor="start" fill="#000" stroke="#000" stroke-width="0.22" >isotype ctrl</text>
<text x="221.4" y="643.4" font-size="8.1" text-anchor="start" fill="#000" stroke="#000" stroke-width="0.22" >anti-TIM-1 mAb (3D10)</text>
<rect x="369.8" y="627.1" width="7.9" height="4.2" fill="#a00029" />
<rect x="369.8" y="637.8" width="7.9" height="4.1" fill="#2b4a80" />
<text x="380.2" y="631.7" font-size="8.1" text-anchor="start" fill="#000" stroke="#000" stroke-width="0.22" >isotype ctrl</text>
<text x="380.2" y="643.4" font-size="8.1" text-anchor="start" fill="#000" stroke="#000" stroke-width="0.22" >anti-TIM-1 mAb (3D10)</text>
</svg><div id="frame"></div></div></body></html>
